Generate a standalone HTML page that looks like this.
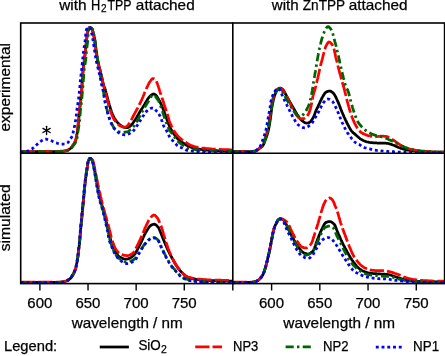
<!DOCTYPE html>
<html><head><meta charset="utf-8"><style>
html,body{margin:0;padding:0;background:#fff;width:445px;height:356px;overflow:hidden}
svg{display:block;will-change:transform}
text{font-family:"Liberation Sans", sans-serif}
</style></head><body>
<svg width="445" height="356" viewBox="0 0 445 356"><defs>
<clipPath id="cTL"><rect x="20.7" y="19.9" width="212.10000000000002" height="133.1"/></clipPath>
<clipPath id="cTR"><rect x="232.8" y="19.9" width="211.7" height="133.1"/></clipPath>
<clipPath id="cBL"><rect x="20.7" y="150.0" width="212.10000000000002" height="133.7"/></clipPath>
<clipPath id="cBR"><rect x="232.8" y="150.0" width="211.7" height="133.7"/></clipPath>
</defs>
<g clip-path="url(#cTL)" fill="none" stroke-width="2.75" stroke-linejoin="round">
<path d="M20.7,151.6 21.5,151.6 22.3,151.6 23.1,151.6 23.9,151.6 24.7,151.6 25.5,151.6 26.3,151.6 27.1,151.6 27.9,151.6 28.7,151.6 29.5,151.6 30.3,151.6 31.1,151.6 31.9,151.6 32.7,151.6 33.5,151.6 34.3,151.6 35.1,151.6 35.9,151.6 36.7,151.6 37.5,151.6 38.3,151.6 39.1,151.6 39.9,151.6 40.7,151.6 41.5,151.6 42.3,151.6 43.1,151.6 43.9,151.6 44.7,151.6 45.5,151.6 46.3,151.6 47.1,151.6 47.9,151.6 48.7,151.6 49.5,151.6 50.3,151.6 51.1,151.6 51.9,151.6 52.7,151.6 53.5,151.6 54.3,151.6 55.1,151.6 55.9,151.6 56.7,151.6 57.5,151.6 58.3,151.5 59.1,151.5 59.9,151.5 60.6,151.4 61.4,151.4 62.2,151.3 63.0,151.3 63.8,151.2 64.6,151.1 65.4,150.9 66.2,150.7 67.0,150.5 67.7,150.2 68.4,149.9 69.1,149.4 69.7,149.0 70.4,148.5 71.0,148.0 71.5,147.4 72.0,146.8 72.5,146.1 73.0,145.5 73.4,144.8 73.9,144.2 74.3,143.5 74.6,142.8 75.0,142.0 75.3,141.3 75.6,140.5 75.8,139.8 76.0,139.0 76.2,138.2 76.4,137.5 76.5,136.7 76.7,135.9 76.8,135.1 76.9,134.3 77.1,133.5 77.2,132.7 77.3,131.9 77.4,131.2 77.5,130.4 77.6,129.6 77.7,128.8 77.8,128.0 77.9,127.2 78.0,126.4 78.1,125.6 78.2,124.8 78.3,124.0 78.4,123.2 78.5,122.4 78.5,121.6 78.6,120.8 78.7,120.0 78.8,119.2 78.8,118.5 78.9,117.7 79.0,116.9 79.0,116.1 79.1,115.3 79.2,114.5 79.2,113.7 79.3,112.9 79.4,112.1 79.5,111.3 79.6,110.5 79.6,109.7 79.7,108.9 79.8,108.1 79.9,107.3 80.0,106.5 80.1,105.7 80.2,104.9 80.3,104.1 80.4,103.4 80.5,102.6 80.6,101.8 80.7,101.0 80.8,100.2 80.9,99.4 80.9,98.6 81.0,97.8 81.1,97.0 81.2,96.2 81.3,95.4 81.3,94.6 81.4,93.8 81.5,93.0 81.5,92.2 81.6,91.4 81.7,90.6 81.7,89.8 81.8,89.0 81.8,88.2 81.9,87.4 81.9,86.6 82.0,85.8 82.0,85.0 82.1,84.3 82.1,83.5 82.1,82.7 82.2,81.9 82.2,81.1 82.3,80.3 82.3,79.5 82.4,78.7 82.4,77.9 82.5,77.1 82.5,76.3 82.6,75.5 82.6,74.7 82.7,73.9 82.7,73.1 82.8,72.3 82.9,71.5 82.9,70.7 83.0,69.9 83.1,69.1 83.2,68.3 83.3,67.5 83.4,66.7 83.5,65.9 83.6,65.1 83.8,64.4 83.9,63.6 84.0,62.8 84.1,62.0 84.2,61.2 84.3,60.4 84.4,59.6 84.5,58.8 84.6,58.0 84.7,57.2 84.8,56.4 84.9,55.6 85.0,54.9 85.1,54.1 85.2,53.3 85.2,52.5 85.3,51.7 85.4,50.9 85.5,50.1 85.6,49.3 85.7,48.5 85.8,47.7 85.8,46.9 85.9,46.1 86.0,45.3 86.1,44.5 86.2,43.7 86.3,42.9 86.4,42.1 86.4,41.3 86.5,40.6 86.6,39.8 86.7,39.0 86.8,38.2 86.9,37.4 87.0,36.6 87.1,35.8 87.1,35.0 87.2,34.2 87.3,33.4 87.5,32.6 87.6,31.8 87.9,31.1 88.1,30.3 88.3,29.5 88.6,28.8 89.0,28.1 89.5,27.5 90.3,27.7 90.9,28.1 91.5,28.6 92.0,29.3 92.4,30.0 92.7,30.7 93.0,31.5 93.2,32.2 93.4,33.0 93.5,33.8 93.7,34.6 93.9,35.4 94.0,36.2 94.2,36.9 94.4,37.7 94.6,38.5 94.8,39.3 94.9,40.0 95.0,40.8 95.2,41.6 95.3,42.4 95.4,43.2 95.5,44.0 95.6,44.8 95.7,45.6 95.7,46.4 95.8,47.2 95.9,48.0 96.0,48.8 96.1,49.6 96.2,50.3 96.4,51.1 96.5,51.9 96.6,52.7 96.7,53.5 96.8,54.3 96.9,55.1 97.0,55.9 97.1,56.7 97.3,57.5 97.4,58.3 97.5,59.0 97.7,59.8 97.8,60.6 98.0,61.4 98.1,62.2 98.3,63.0 98.5,63.7 98.7,64.5 98.8,65.3 99.0,66.1 99.2,66.9 99.4,67.6 99.6,68.4 99.8,69.2 100.0,70.0 100.2,70.7 100.4,71.5 100.6,72.3 100.8,73.1 101.0,73.8 101.2,74.6 101.4,75.4 101.5,76.2 101.7,76.9 101.9,77.7 102.1,78.5 102.2,79.3 102.4,80.1 102.5,80.8 102.7,81.6 102.9,82.4 103.1,83.2 103.3,84.0 103.5,84.7 103.8,85.5 104.0,86.2 104.3,87.0 104.6,87.7 104.9,88.5 105.2,89.2 105.4,90.0 105.6,90.8 105.8,91.5 106.0,92.3 106.2,93.1 106.4,93.8 106.6,94.6 106.8,95.4 107.0,96.2 107.2,96.9 107.4,97.7 107.6,98.5 107.8,99.3 108.0,100.0 108.2,100.8 108.4,101.6 108.6,102.4 108.8,103.1 109.1,103.9 109.3,104.7 109.5,105.4 109.7,106.2 110.0,107.0 110.2,107.7 110.4,108.5 110.7,109.2 110.9,110.0 111.2,110.8 111.4,111.5 111.7,112.3 112.0,113.0 112.3,113.8 112.6,114.5 112.9,115.2 113.3,115.9 113.6,116.7 114.0,117.4 114.3,118.1 114.7,118.8 115.1,119.5 115.6,120.1 116.1,120.8 116.6,121.4 117.1,122.0 117.6,122.6 118.2,123.2 118.7,123.7 119.3,124.3 119.9,124.8 120.5,125.3 121.2,125.8 121.9,126.2 122.5,126.7 123.2,127.0 124.0,127.3 124.8,127.4 125.6,127.5 126.4,127.6 127.2,127.6 127.9,127.4 128.7,127.1 129.4,126.8 130.0,126.3 130.6,125.8 131.2,125.2 131.7,124.6 132.2,124.0 132.7,123.3 133.1,122.7 133.6,122.0 134.0,121.4 134.5,120.7 135.0,120.1 135.4,119.4 135.9,118.7 136.3,118.1 136.7,117.4 137.1,116.7 137.5,116.0 137.9,115.3 138.3,114.6 138.7,113.9 139.1,113.2 139.5,112.5 139.9,111.8 140.3,111.1 140.7,110.5 141.1,109.8 141.6,109.1 142.0,108.5 142.5,107.8 142.9,107.1 143.4,106.5 143.8,105.8 144.2,105.1 144.6,104.4 145.0,103.7 145.4,103.0 145.8,102.3 146.2,101.6 146.6,100.9 147.0,100.2 147.4,99.6 147.8,98.9 148.3,98.2 148.8,97.6 149.3,97.0 149.8,96.4 150.4,95.8 151.0,95.3 151.6,94.9 152.3,94.4 153.0,94.1 153.8,94.0 154.6,94.3 155.2,94.7 155.9,95.2 156.4,95.8 156.9,96.4 157.3,97.1 157.7,97.8 158.1,98.5 158.5,99.2 158.9,99.9 159.3,100.6 159.6,101.3 160.0,102.0 160.4,102.7 160.7,103.4 161.0,104.1 161.4,104.9 161.7,105.6 162.0,106.3 162.3,107.1 162.6,107.8 162.9,108.6 163.2,109.3 163.5,110.0 163.8,110.8 164.1,111.5 164.4,112.3 164.6,113.0 164.9,113.8 165.2,114.5 165.5,115.3 165.7,116.0 166.0,116.8 166.3,117.5 166.5,118.3 166.8,119.1 167.0,119.8 167.3,120.6 167.6,121.3 167.8,122.1 168.1,122.8 168.4,123.6 168.7,124.3 169.0,125.0 169.3,125.8 169.7,126.5 170.0,127.2 170.4,127.9 170.7,128.7 171.1,129.4 171.5,130.1 171.9,130.8 172.3,131.5 172.7,132.1 173.1,132.8 173.5,133.5 174.0,134.1 174.5,134.8 174.9,135.4 175.4,136.1 175.9,136.7 176.4,137.3 177.0,137.9 177.5,138.5 178.0,139.1 178.6,139.6 179.2,140.2 179.8,140.7 180.5,141.2 181.1,141.6 181.8,142.1 182.4,142.5 183.1,142.9 183.8,143.4 184.5,143.8 185.1,144.3 185.8,144.7 186.4,145.2 187.1,145.6 187.8,145.9 188.6,146.2 189.3,146.5 190.1,146.8 190.8,147.1 191.6,147.4 192.3,147.6 193.1,147.9 193.8,148.1 194.6,148.3 195.4,148.5 196.2,148.7 197.0,148.8 197.7,149.0 198.5,149.1 199.3,149.2 200.1,149.3 200.9,149.4 201.7,149.5 202.5,149.6 203.3,149.7 204.1,149.8 204.9,149.9 205.7,150.0 206.5,150.1 207.3,150.1 208.1,150.2 208.9,150.3 209.6,150.3 210.4,150.4 211.2,150.4 212.0,150.5 212.8,150.5 213.6,150.6 214.4,150.6 215.2,150.7 216.0,150.7 216.8,150.7 217.6,150.8 218.4,150.8 219.2,150.8 220.0,150.9 220.8,150.9 221.6,150.9 222.4,151.0 223.2,151.0 224.0,151.0 224.8,151.1 225.6,151.1 226.4,151.1 227.2,151.1 228.0,151.1 228.8,151.2 229.6,151.2 230.4,151.2 231.2,151.2 232.0,151.2 232.8,151.2" stroke="#000000" stroke-linecap="round"/>
<path d="M20.7,151.4 21.5,151.4 22.3,151.4 23.1,151.4 23.9,151.4 24.7,151.4 25.5,151.4 26.3,151.4 27.1,151.4 27.9,151.4 28.7,151.4 29.5,151.4 30.3,151.4 31.1,151.4 31.9,151.4 32.7,151.4 33.5,151.4 34.3,151.4 35.1,151.4 35.9,151.4 36.7,151.4 37.5,151.4 38.3,151.4 39.1,151.4 39.9,151.4 40.7,151.4 41.5,151.4 42.3,151.4 43.1,151.4 43.9,151.4 44.7,151.4 45.5,151.4 46.3,151.4 47.1,151.4 47.9,151.4 48.7,151.4 49.5,151.4 50.3,151.4 51.1,151.4 51.9,151.4 52.7,151.4 53.5,151.4 54.3,151.4 55.1,151.4 55.9,151.4 56.7,151.4 57.5,151.4 58.3,151.3 59.1,151.3 59.9,151.3 60.6,151.2 61.4,151.2 62.2,151.1 63.0,151.1 63.8,151.0 64.6,150.9 65.4,150.7 66.2,150.6 67.0,150.3 67.7,150.0 68.4,149.7 69.1,149.3 69.8,148.9 70.4,148.4 71.0,147.8 71.5,147.3 72.0,146.6 72.4,145.9 72.8,145.2 73.3,144.6 73.7,143.9 74.1,143.2 74.5,142.5 74.9,141.8 75.3,141.1 75.6,140.4 75.8,139.6 76.0,138.8 76.2,138.1 76.3,137.3 76.5,136.5 76.6,135.7 76.7,134.9 76.8,134.1 76.9,133.3 77.0,132.5 77.2,131.7 77.3,130.9 77.4,130.2 77.5,129.4 77.6,128.6 77.7,127.8 77.8,127.0 77.9,126.2 77.9,125.4 78.0,124.6 78.1,123.8 78.2,123.0 78.3,122.2 78.4,121.4 78.4,120.6 78.5,119.8 78.6,119.0 78.7,118.2 78.7,117.4 78.8,116.6 78.9,115.8 78.9,115.1 79.0,114.3 79.1,113.5 79.1,112.7 79.2,111.9 79.3,111.1 79.4,110.3 79.5,109.5 79.6,108.7 79.7,107.9 79.8,107.1 79.9,106.3 80.0,105.5 80.1,104.7 80.3,104.0 80.4,103.2 80.5,102.4 80.6,101.6 80.7,100.8 80.8,100.0 80.9,99.2 81.0,98.4 81.1,97.6 81.1,96.8 81.2,96.0 81.3,95.2 81.3,94.4 81.4,93.6 81.5,92.8 81.5,92.0 81.6,91.2 81.7,90.4 81.7,89.6 81.8,88.8 81.8,88.1 81.9,87.3 81.9,86.5 82.0,85.7 82.0,84.9 82.0,84.1 82.1,83.3 82.1,82.5 82.2,81.7 82.2,80.9 82.3,80.1 82.4,79.3 82.4,78.5 82.5,77.7 82.6,76.9 82.6,76.1 82.7,75.3 82.8,74.5 82.9,73.7 83.0,72.9 83.1,72.1 83.2,71.3 83.2,70.5 83.3,69.7 83.4,68.9 83.5,68.1 83.6,67.4 83.7,66.6 83.8,65.8 83.8,65.0 83.9,64.2 84.0,63.4 84.1,62.6 84.2,61.8 84.3,61.0 84.4,60.2 84.5,59.4 84.6,58.6 84.6,57.8 84.7,57.0 84.8,56.2 84.9,55.4 85.0,54.6 85.1,53.9 85.2,53.1 85.3,52.3 85.3,51.5 85.4,50.7 85.5,49.9 85.6,49.1 85.7,48.3 85.8,47.5 85.9,46.7 86.0,45.9 86.0,45.1 86.1,44.3 86.2,43.5 86.3,42.7 86.4,41.9 86.5,41.1 86.6,40.4 86.6,39.6 86.7,38.8 86.8,38.0 86.9,37.2 86.9,36.4 87.0,35.6 87.1,34.8 87.1,34.0 87.2,33.2 87.3,32.4 87.5,31.6 87.7,30.8 87.9,30.1 88.2,29.3 88.5,28.6 88.9,27.9 89.5,27.5 90.3,27.7 91.0,28.0 91.5,28.6 91.8,29.3 92.1,30.1 92.4,30.8 92.6,31.6 92.8,32.4 93.0,33.2 93.2,33.9 93.3,34.7 93.5,35.5 93.7,36.3 93.8,37.1 93.9,37.9 94.1,38.7 94.2,39.4 94.3,40.2 94.4,41.0 94.5,41.8 94.6,42.6 94.8,43.4 94.9,44.2 95.0,45.0 95.1,45.8 95.2,46.6 95.3,47.3 95.5,48.1 95.6,48.9 95.7,49.7 95.8,50.5 95.9,51.3 96.0,52.1 96.2,52.9 96.3,53.7 96.4,54.5 96.5,55.2 96.7,56.0 96.8,56.8 96.9,57.6 97.1,58.4 97.2,59.2 97.4,60.0 97.5,60.8 97.7,61.5 97.8,62.3 98.0,63.1 98.2,63.9 98.4,64.7 98.6,65.4 98.8,66.2 99.1,67.0 99.3,67.7 99.5,68.5 99.7,69.3 100.0,70.0 100.2,70.8 100.4,71.6 100.6,72.3 100.8,73.1 100.9,73.9 101.1,74.7 101.3,75.5 101.5,76.2 101.6,77.0 101.8,77.8 102.0,78.6 102.1,79.4 102.3,80.1 102.5,80.9 102.7,81.7 102.8,82.5 103.0,83.3 103.2,84.0 103.4,84.8 103.5,85.6 103.7,86.4 103.9,87.2 104.1,87.9 104.3,88.7 104.5,89.5 104.7,90.3 104.9,91.0 105.1,91.8 105.3,92.6 105.6,93.3 105.8,94.1 106.0,94.9 106.3,95.6 106.5,96.4 106.7,97.2 106.9,97.9 107.1,98.7 107.3,99.5 107.4,100.3 107.6,101.0 107.8,101.8 108.0,102.6 108.2,103.4 108.4,104.1 108.6,104.9 108.8,105.7 109.1,106.4 109.3,107.2 109.5,108.0 109.7,108.7 110.0,109.5 110.2,110.3 110.5,111.0 110.8,111.8 111.0,112.5 111.3,113.3 111.6,114.0 111.9,114.8 112.2,115.5 112.5,116.3 112.8,117.0 113.1,117.7 113.5,118.4 113.9,119.1 114.3,119.8 114.8,120.4 115.3,121.1 115.8,121.7 116.3,122.3 116.8,122.9 117.3,123.5 117.9,124.1 118.5,124.6 119.1,125.1 119.7,125.6 120.4,126.0 121.2,126.3 121.9,126.6 122.7,126.8 123.5,126.9 124.3,127.0 125.1,127.0 125.8,126.8 126.6,126.5 127.2,126.0 127.8,125.5 128.3,124.8 128.7,124.1 129.1,123.5 129.5,122.8 129.9,122.1 130.4,121.4 130.8,120.7 131.2,120.0 131.6,119.4 132.0,118.7 132.3,118.0 132.7,117.2 133.1,116.5 133.5,115.8 133.8,115.1 134.2,114.4 134.6,113.7 134.9,113.0 135.3,112.3 135.7,111.6 136.1,110.9 136.4,110.2 136.8,109.5 137.2,108.8 137.6,108.1 137.9,107.4 138.3,106.6 138.7,105.9 139.0,105.2 139.4,104.5 139.8,103.8 140.1,103.1 140.5,102.4 140.8,101.6 141.2,100.9 141.5,100.2 141.8,99.5 142.2,98.7 142.5,98.0 142.8,97.3 143.1,96.5 143.4,95.8 143.7,95.1 144.0,94.3 144.3,93.6 144.6,92.8 144.9,92.1 145.2,91.4 145.5,90.6 145.9,89.9 146.2,89.2 146.5,88.4 146.8,87.7 147.2,87.0 147.5,86.3 147.8,85.5 148.2,84.8 148.6,84.1 148.9,83.4 149.3,82.7 149.7,82.0 150.2,81.3 150.6,80.7 151.1,80.0 151.6,79.5 152.2,78.9 153.0,78.6 153.7,78.7 154.5,79.1 155.1,79.5 155.7,80.0 156.2,80.7 156.5,81.4 156.8,82.2 157.1,82.9 157.4,83.7 157.6,84.4 157.9,85.2 158.2,85.9 158.4,86.7 158.6,87.4 158.9,88.2 159.1,89.0 159.3,89.7 159.6,90.5 159.8,91.3 160.0,92.0 160.3,92.8 160.5,93.6 160.8,94.3 161.0,95.1 161.3,95.8 161.5,96.6 161.8,97.3 162.0,98.1 162.3,98.9 162.6,99.6 162.8,100.4 163.1,101.1 163.3,101.9 163.6,102.6 163.8,103.4 164.1,104.2 164.3,104.9 164.6,105.7 164.8,106.4 165.1,107.2 165.3,107.9 165.6,108.7 165.9,109.5 166.1,110.2 166.4,111.0 166.7,111.7 166.9,112.5 167.2,113.2 167.4,114.0 167.6,114.8 167.9,115.5 168.1,116.3 168.3,117.1 168.5,117.8 168.6,118.6 168.8,119.4 169.1,120.2 169.3,120.9 169.6,121.7 169.9,122.4 170.2,123.2 170.5,123.9 170.9,124.6 171.2,125.3 171.5,126.0 171.9,126.8 172.2,127.5 172.6,128.2 172.9,128.9 173.3,129.7 173.6,130.4 174.0,131.1 174.5,131.7 174.9,132.4 175.4,133.0 175.9,133.7 176.4,134.3 176.9,134.9 177.4,135.5 178.0,136.1 178.5,136.7 179.1,137.2 179.6,137.8 180.2,138.3 180.8,138.9 181.5,139.4 182.1,139.9 182.7,140.3 183.4,140.8 184.1,141.2 184.7,141.7 185.4,142.1 186.1,142.5 186.7,143.0 187.4,143.4 188.0,143.9 188.7,144.3 189.4,144.7 190.1,145.1 190.9,145.4 191.6,145.7 192.4,145.9 193.1,146.2 193.9,146.4 194.6,146.7 195.4,146.9 196.2,147.0 197.0,147.2 197.8,147.4 198.5,147.5 199.3,147.6 200.1,147.8 200.9,147.9 201.7,148.0 202.5,148.1 203.3,148.1 204.1,148.2 204.9,148.3 205.7,148.4 206.5,148.5 207.3,148.6 208.1,148.6 208.9,148.7 209.7,148.8 210.5,148.8 211.2,148.9 212.0,149.0 212.8,149.0 213.6,149.1 214.4,149.1 215.2,149.2 216.0,149.2 216.8,149.2 217.6,149.3 218.4,149.3 219.2,149.4 220.0,149.4 220.8,149.4 221.6,149.5 222.4,149.5 223.2,149.5 224.0,149.6 224.8,149.6 225.6,149.6 226.4,149.7 227.2,149.7 228.0,149.7 228.8,149.7 229.6,149.8 230.4,149.8 231.2,149.8 232.0,149.8 232.8,149.8" stroke="#ff0000" stroke-linecap="butt" stroke-dasharray="14.3 3"/>
<path d="M20.7,151.6 21.5,151.6 22.3,151.6 23.1,151.6 23.9,151.6 24.7,151.6 25.5,151.6 26.3,151.6 27.1,151.6 27.9,151.6 28.7,151.6 29.5,151.6 30.3,151.6 31.1,151.6 31.9,151.6 32.7,151.6 33.5,151.6 34.3,151.6 35.1,151.6 35.9,151.6 36.7,151.6 37.5,151.6 38.3,151.6 39.1,151.6 39.9,151.6 40.7,151.6 41.5,151.6 42.3,151.6 43.1,151.6 43.9,151.6 44.7,151.6 45.5,151.6 46.3,151.6 47.1,151.6 47.9,151.6 48.7,151.6 49.5,151.6 50.3,151.6 51.1,151.6 51.9,151.6 52.7,151.6 53.5,151.6 54.3,151.6 55.1,151.6 55.8,151.6 56.6,151.6 57.4,151.6 58.2,151.6 59.0,151.5 59.8,151.5 60.6,151.5 61.4,151.4 62.2,151.4 63.0,151.4 63.8,151.3 64.6,151.2 65.4,151.1 66.2,150.9 67.0,150.7 67.7,150.5 68.5,150.2 69.2,149.8 69.9,149.4 70.5,148.9 71.1,148.4 71.6,147.8 72.1,147.2 72.6,146.5 73.0,145.9 73.5,145.2 74.0,144.6 74.5,144.0 75.0,143.3 75.4,142.7 75.8,142.0 76.1,141.2 76.4,140.5 76.7,139.7 76.9,139.0 77.0,138.2 77.2,137.4 77.3,136.6 77.4,135.8 77.5,135.0 77.6,134.2 77.7,133.4 77.8,132.6 77.9,131.9 78.0,131.1 78.2,130.3 78.3,129.5 78.4,128.7 78.5,127.9 78.7,127.1 78.8,126.3 78.9,125.5 79.1,124.8 79.2,124.0 79.3,123.2 79.4,122.4 79.5,121.6 79.6,120.8 79.7,120.0 79.8,119.2 79.9,118.4 79.9,117.6 80.0,116.8 80.0,116.0 80.1,115.2 80.1,114.4 80.2,113.6 80.3,112.8 80.3,112.0 80.4,111.2 80.5,110.4 80.5,109.7 80.6,108.9 80.7,108.1 80.8,107.3 80.9,106.5 81.0,105.7 81.1,104.9 81.2,104.1 81.3,103.3 81.4,102.5 81.5,101.7 81.6,100.9 81.7,100.1 81.8,99.3 81.8,98.5 81.9,97.7 82.0,97.0 82.1,96.2 82.1,95.4 82.2,94.6 82.3,93.8 82.3,93.0 82.4,92.2 82.5,91.4 82.6,90.6 82.6,89.8 82.7,89.0 82.7,88.2 82.8,87.4 82.9,86.6 82.9,85.8 83.0,85.0 83.1,84.2 83.1,83.4 83.2,82.6 83.3,81.8 83.3,81.0 83.4,80.2 83.4,79.4 83.5,78.6 83.6,77.8 83.6,77.0 83.7,76.3 83.7,75.5 83.8,74.7 83.9,73.9 83.9,73.1 84.0,72.3 84.1,71.5 84.1,70.7 84.2,69.9 84.3,69.1 84.4,68.3 84.5,67.5 84.6,66.7 84.8,65.9 84.9,65.1 85.0,64.4 85.2,63.6 85.3,62.8 85.4,62.0 85.5,61.2 85.7,60.4 85.7,59.6 85.8,58.8 85.9,58.0 86.0,57.2 86.0,56.4 86.1,55.6 86.2,54.8 86.2,54.0 86.3,53.2 86.4,52.5 86.4,51.7 86.5,50.9 86.6,50.1 86.7,49.3 86.8,48.5 86.9,47.7 87.0,46.9 87.1,46.1 87.2,45.3 87.3,44.5 87.4,43.7 87.5,42.9 87.6,42.1 87.7,41.3 87.7,40.6 87.8,39.8 87.9,39.0 87.9,38.2 88.0,37.4 88.0,36.6 88.1,35.8 88.1,35.0 88.2,34.2 88.3,33.4 88.3,32.6 88.4,31.8 88.5,31.0 88.7,30.2 89.0,29.5 89.3,28.7 89.7,28.0 90.3,27.5 91.0,27.7 91.6,28.2 92.2,28.7 92.7,29.4 93.0,30.1 93.3,30.9 93.4,31.6 93.6,32.4 93.7,33.2 93.8,34.0 94.0,34.8 94.1,35.6 94.2,36.4 94.3,37.2 94.4,38.0 94.5,38.7 94.6,39.5 94.7,40.3 94.9,41.1 95.0,41.9 95.1,42.7 95.2,43.5 95.3,44.3 95.4,45.1 95.5,45.9 95.6,46.7 95.7,47.5 95.8,48.3 95.9,49.0 96.0,49.8 96.1,50.6 96.2,51.4 96.3,52.2 96.4,53.0 96.5,53.8 96.7,54.6 96.8,55.4 96.9,56.2 97.0,57.0 97.1,57.7 97.3,58.5 97.4,59.3 97.5,60.1 97.6,60.9 97.8,61.7 97.9,62.5 98.1,63.3 98.2,64.0 98.3,64.8 98.5,65.6 98.6,66.4 98.8,67.2 98.9,68.0 99.1,68.8 99.2,69.5 99.4,70.3 99.5,71.1 99.7,71.9 99.8,72.7 99.9,73.5 100.1,74.3 100.2,75.0 100.4,75.8 100.5,76.6 100.7,77.4 100.8,78.2 101.0,79.0 101.2,79.7 101.3,80.5 101.5,81.3 101.6,82.1 101.8,82.9 101.9,83.7 102.1,84.4 102.3,85.2 102.4,86.0 102.6,86.8 102.7,87.6 102.9,88.4 103.0,89.1 103.2,89.9 103.3,90.7 103.4,91.5 103.6,92.3 103.7,93.1 103.8,93.9 104.0,94.7 104.1,95.4 104.2,96.2 104.4,97.0 104.5,97.8 104.6,98.6 104.8,99.4 104.9,100.2 105.1,100.9 105.3,101.7 105.4,102.5 105.6,103.3 105.7,104.1 105.9,104.9 106.1,105.6 106.2,106.4 106.4,107.2 106.6,108.0 106.8,108.8 107.0,109.5 107.1,110.3 107.3,111.1 107.5,111.9 107.7,112.6 108.0,113.4 108.2,114.2 108.4,114.9 108.6,115.7 108.9,116.5 109.1,117.2 109.4,118.0 109.6,118.7 109.9,119.5 110.2,120.2 110.5,120.9 110.9,121.7 111.2,122.4 111.5,123.1 111.8,123.9 112.2,124.6 112.5,125.3 112.9,126.0 113.3,126.7 113.8,127.4 114.2,128.0 114.7,128.7 115.2,129.2 115.8,129.8 116.4,130.3 117.1,130.8 117.8,131.2 118.5,131.5 119.2,131.8 120.0,132.0 120.8,132.2 121.6,132.3 122.4,132.4 123.2,132.4 124.0,132.3 124.8,132.2 125.5,132.1 126.3,131.9 127.1,131.8 127.9,131.5 128.6,131.2 129.2,130.7 129.9,130.2 130.5,129.7 131.1,129.2 131.6,128.6 132.2,128.0 132.7,127.4 133.3,126.8 133.8,126.2 134.3,125.6 134.8,125.0 135.3,124.4 135.7,123.7 136.1,123.0 136.5,122.3 136.9,121.6 137.3,120.9 137.7,120.2 138.0,119.5 138.4,118.8 138.8,118.1 139.1,117.4 139.5,116.7 139.9,116.0 140.2,115.2 140.6,114.5 141.0,113.8 141.4,113.1 141.7,112.4 142.2,111.7 142.6,111.1 143.0,110.4 143.4,109.7 143.8,109.0 144.2,108.3 144.6,107.6 145.0,106.9 145.4,106.2 145.8,105.5 146.2,104.9 146.6,104.2 147.0,103.5 147.5,102.8 147.9,102.2 148.3,101.5 148.7,100.8 149.1,100.1 149.5,99.4 149.9,98.7 150.3,98.0 150.7,97.3 151.1,96.6 151.6,96.0 152.1,95.4 152.8,95.0 153.6,95.1 154.3,95.5 154.9,96.0 155.5,96.6 156.0,97.2 156.5,97.8 156.9,98.5 157.4,99.1 157.8,99.8 158.3,100.4 158.7,101.1 159.0,101.9 159.3,102.6 159.6,103.3 159.9,104.1 160.2,104.8 160.4,105.6 160.7,106.3 161.0,107.1 161.2,107.8 161.5,108.6 161.8,109.3 162.0,110.1 162.3,110.9 162.6,111.6 162.8,112.4 163.1,113.1 163.3,113.9 163.5,114.6 163.8,115.4 164.0,116.2 164.3,116.9 164.5,117.7 164.8,118.5 165.0,119.2 165.3,120.0 165.5,120.7 165.8,121.5 166.1,122.2 166.4,123.0 166.7,123.7 167.0,124.5 167.3,125.2 167.6,125.9 167.9,126.7 168.2,127.4 168.5,128.1 168.8,128.9 169.2,129.6 169.6,130.3 170.0,131.0 170.4,131.6 170.9,132.2 171.5,132.8 172.0,133.5 172.5,134.1 172.9,134.7 173.4,135.4 173.8,136.1 174.3,136.7 174.7,137.4 175.2,138.0 175.6,138.7 176.1,139.3 176.6,140.0 177.1,140.6 177.7,141.2 178.2,141.7 178.9,142.2 179.5,142.7 180.2,143.1 180.8,143.6 181.5,144.1 182.1,144.5 182.7,145.0 183.4,145.5 184.0,146.0 184.7,146.4 185.4,146.8 186.1,147.2 186.8,147.6 187.5,147.9 188.3,148.1 189.1,148.3 189.9,148.5 190.6,148.7 191.4,148.9 192.2,149.0 193.0,149.2 193.7,149.4 194.5,149.5 195.3,149.7 196.1,149.8 196.9,149.9 197.7,150.0 198.5,150.1 199.3,150.2 200.1,150.3 200.9,150.4 201.7,150.5 202.5,150.5 203.3,150.6 204.0,150.6 204.8,150.6 205.6,150.7 206.4,150.7 207.2,150.7 208.0,150.8 208.8,150.8 209.6,150.8 210.4,150.8 211.2,150.9 212.0,150.9 212.8,150.9 213.6,150.9 214.4,150.9 215.2,151.0 216.0,151.0 216.8,151.0 217.6,151.0 218.4,151.0 219.2,151.1 220.0,151.1 220.8,151.1 221.6,151.1 222.4,151.1 223.2,151.1 224.0,151.1 224.8,151.2 225.6,151.2 226.4,151.2 227.2,151.2 228.0,151.2 228.8,151.2 229.6,151.2 230.4,151.2 231.2,151.2 232.0,151.2 232.8,151.2" stroke="#006400" stroke-linecap="butt" stroke-dasharray="8.1 3.3 2.4 3.3"/>
<path d="M20.7,152.2 21.5,152.2 22.3,152.2 23.1,152.1 23.9,152.0 24.7,152.0 25.5,151.9 26.3,151.7 27.0,151.5 27.7,151.1 28.4,150.7 29.1,150.3 29.8,149.9 30.5,149.6 31.3,149.2 32.0,148.9 32.6,148.4 33.3,147.9 33.9,147.4 34.4,146.9 35.0,146.3 35.6,145.8 36.2,145.2 36.8,144.7 37.3,144.1 37.9,143.6 38.5,143.0 39.1,142.5 39.7,142.0 40.4,141.5 41.0,141.1 41.7,140.6 42.4,140.2 43.1,139.8 43.8,139.5 44.5,139.2 45.3,139.1 46.1,139.1 46.9,139.3 47.7,139.5 48.5,139.7 49.2,139.9 50.0,140.2 50.7,140.5 51.5,140.8 52.2,141.1 52.9,141.5 53.6,141.8 54.3,142.2 55.1,142.5 55.8,142.8 56.6,143.0 57.3,143.3 58.1,143.5 58.9,143.7 59.7,143.9 60.4,144.0 61.2,144.1 62.0,144.1 62.8,144.1 63.6,144.1 64.4,144.0 65.2,144.0 66.0,143.8 66.7,143.4 67.4,143.0 68.0,142.5 68.5,141.9 68.9,141.2 69.3,140.5 69.7,139.8 70.2,139.2 70.7,138.5 71.2,137.9 71.6,137.2 72.0,136.5 72.3,135.8 72.5,135.0 72.7,134.2 72.9,133.5 73.1,132.7 73.3,131.9 73.4,131.1 73.6,130.3 73.8,129.6 74.0,128.8 74.2,128.0 74.3,127.2 74.5,126.4 74.7,125.7 74.8,124.9 75.0,124.1 75.1,123.3 75.3,122.5 75.4,121.7 75.5,120.9 75.7,120.1 75.8,119.4 75.9,118.6 76.0,117.8 76.1,117.0 76.2,116.2 76.3,115.4 76.4,114.6 76.4,113.8 76.5,113.0 76.6,112.2 76.7,111.4 76.8,110.6 76.9,109.8 77.0,109.0 77.1,108.2 77.3,107.5 77.4,106.7 77.5,105.9 77.6,105.1 77.8,104.3 77.9,103.5 78.0,102.7 78.1,101.9 78.2,101.1 78.4,100.3 78.5,99.5 78.6,98.8 78.7,98.0 78.7,97.2 78.8,96.4 78.9,95.6 79.0,94.8 79.1,94.0 79.2,93.2 79.3,92.4 79.3,91.6 79.4,90.8 79.5,90.0 79.6,89.2 79.6,88.4 79.7,87.6 79.8,86.8 79.9,86.0 79.9,85.2 80.0,84.4 80.1,83.6 80.1,82.8 80.2,82.0 80.3,81.2 80.4,80.5 80.4,79.7 80.5,78.9 80.6,78.1 80.7,77.3 80.8,76.5 80.9,75.7 81.0,74.9 81.1,74.1 81.2,73.3 81.3,72.5 81.4,71.7 81.5,70.9 81.6,70.1 81.7,69.3 81.8,68.5 81.8,67.7 81.9,67.0 82.0,66.2 82.1,65.4 82.1,64.6 82.2,63.8 82.3,63.0 82.4,62.2 82.5,61.4 82.5,60.6 82.6,59.8 82.7,59.0 82.8,58.2 82.9,57.4 83.0,56.6 83.0,55.8 83.1,55.0 83.2,54.2 83.3,53.4 83.4,52.6 83.5,51.8 83.6,51.0 83.7,50.3 83.8,49.5 83.9,48.7 84.0,47.9 84.1,47.1 84.2,46.3 84.4,45.5 84.5,44.7 84.6,43.9 84.7,43.1 84.9,42.3 85.0,41.6 85.1,40.8 85.2,40.0 85.3,39.2 85.4,38.4 85.5,37.6 85.5,36.8 85.6,36.0 85.7,35.2 85.7,34.4 85.8,33.6 85.9,32.8 86.0,32.0 86.1,31.2 86.2,30.4 86.4,29.7 86.8,28.9 87.2,28.3 87.7,27.6 88.4,27.3 89.2,27.3 90.0,27.5 90.3,28.2 90.5,28.9 90.7,29.7 90.9,30.5 91.1,31.3 91.3,32.0 91.5,32.8 91.7,33.6 91.9,34.4 92.0,35.2 92.2,35.9 92.4,36.7 92.5,37.5 92.7,38.3 92.8,39.1 93.0,39.9 93.1,40.7 93.2,41.4 93.4,42.2 93.5,43.0 93.6,43.8 93.7,44.6 93.8,45.4 93.9,46.2 94.1,47.0 94.2,47.8 94.3,48.6 94.4,49.4 94.5,50.1 94.6,50.9 94.8,51.7 94.9,52.5 95.0,53.3 95.1,54.1 95.2,54.9 95.4,55.7 95.5,56.5 95.6,57.3 95.7,58.0 95.9,58.8 96.0,59.6 96.2,60.4 96.3,61.2 96.5,62.0 96.7,62.7 96.9,63.5 97.1,64.3 97.3,65.1 97.5,65.9 97.7,66.6 97.8,67.4 98.0,68.2 98.2,69.0 98.4,69.7 98.6,70.5 98.8,71.3 99.0,72.1 99.2,72.8 99.4,73.6 99.5,74.4 99.7,75.2 99.9,76.0 100.1,76.7 100.2,77.5 100.4,78.3 100.5,79.1 100.7,79.9 100.8,80.7 101.0,81.5 101.1,82.2 101.3,83.0 101.4,83.8 101.6,84.6 101.8,85.4 101.9,86.2 102.1,86.9 102.4,87.7 102.6,88.5 102.8,89.2 103.0,90.0 103.2,90.8 103.3,91.6 103.4,92.4 103.6,93.2 103.7,93.9 103.8,94.7 103.9,95.5 104.0,96.3 104.1,97.1 104.3,97.9 104.4,98.7 104.5,99.5 104.7,100.3 104.8,101.0 105.0,101.8 105.1,102.6 105.3,103.4 105.5,104.2 105.7,105.0 105.8,105.7 106.0,106.5 106.2,107.3 106.4,108.1 106.6,108.8 106.8,109.6 107.0,110.4 107.2,111.2 107.4,111.9 107.6,112.7 107.8,113.5 108.0,114.3 108.2,115.0 108.5,115.8 108.7,116.6 108.9,117.3 109.2,118.1 109.5,118.8 109.7,119.6 110.0,120.3 110.3,121.1 110.6,121.8 110.9,122.5 111.3,123.3 111.6,124.0 112.0,124.7 112.4,125.4 112.8,126.1 113.2,126.8 113.6,127.5 114.0,128.2 114.5,128.8 114.9,129.4 115.5,130.0 116.1,130.6 116.7,131.1 117.3,131.6 117.9,132.1 118.6,132.6 119.2,133.1 119.8,133.5 120.5,133.9 121.3,134.2 122.1,134.4 122.9,134.6 123.6,134.7 124.4,134.8 125.2,134.8 126.0,134.7 126.8,134.5 127.6,134.3 128.3,134.0 129.0,133.7 129.8,133.3 130.5,132.9 131.1,132.5 131.8,132.1 132.5,131.7 133.1,131.1 133.6,130.5 134.2,129.9 134.6,129.3 135.1,128.6 135.5,128.0 136.0,127.3 136.4,126.6 136.8,126.0 137.3,125.3 137.7,124.6 138.1,123.9 138.5,123.2 138.9,122.6 139.4,121.9 139.8,121.2 140.3,120.6 140.7,119.9 141.2,119.2 141.6,118.6 142.0,117.9 142.4,117.2 142.8,116.5 143.3,115.8 143.7,115.2 144.1,114.5 144.6,113.8 145.0,113.2 145.5,112.5 146.0,111.9 146.6,111.4 147.2,110.8 147.8,110.3 148.5,109.9 149.1,109.4 149.8,108.9 150.5,108.5 151.2,108.2 152.0,108.0 152.8,108.0 153.5,108.3 154.2,108.7 154.8,109.2 155.4,109.8 155.9,110.4 156.5,111.0 157.0,111.5 157.6,112.1 158.0,112.8 158.5,113.4 158.9,114.1 159.3,114.8 159.7,115.5 160.1,116.2 160.4,116.9 160.7,117.7 161.0,118.4 161.3,119.2 161.6,119.9 161.8,120.7 162.1,121.4 162.3,122.2 162.6,122.9 162.9,123.7 163.1,124.4 163.4,125.2 163.7,125.9 164.1,126.7 164.5,127.4 164.9,128.1 165.3,128.7 165.7,129.4 166.1,130.1 166.6,130.8 167.0,131.4 167.3,132.2 167.7,132.9 168.0,133.6 168.4,134.3 168.7,135.0 169.0,135.8 169.4,136.5 169.8,137.2 170.2,137.8 170.7,138.5 171.2,139.1 171.8,139.7 172.3,140.3 172.9,140.9 173.4,141.4 173.9,142.0 174.5,142.6 175.0,143.2 175.5,143.8 176.1,144.4 176.7,144.9 177.3,145.5 177.9,145.9 178.6,146.4 179.3,146.7 180.0,147.1 180.8,147.4 181.5,147.7 182.2,148.1 182.9,148.5 183.6,148.8 184.3,149.2 185.1,149.5 185.8,149.9 186.5,150.1 187.3,150.4 188.1,150.5 188.9,150.6 189.7,150.8 190.5,150.9 191.3,151.0 192.1,151.1 192.9,151.2 193.6,151.3 194.4,151.3 195.2,151.4 196.0,151.5 196.8,151.5 197.6,151.6 198.4,151.7 199.2,151.7 200.0,151.8 200.8,151.8 201.6,151.8 202.4,151.9 203.2,151.9 204.0,151.9 204.8,151.9 205.6,151.9 206.4,151.9 207.2,152.0 208.0,152.0 208.8,152.0 209.6,152.0 210.4,152.0 211.2,152.0 212.0,152.0 212.8,152.1 213.6,152.1 214.4,152.1 215.2,152.1 216.0,152.1 216.8,152.1 217.6,152.1 218.4,152.1 219.2,152.1 220.0,152.1 220.8,152.1 221.6,152.2 222.4,152.2 223.2,152.2 224.0,152.2 224.8,152.2 225.6,152.2 226.4,152.2 227.2,152.2 228.0,152.2 228.8,152.2 229.6,152.2 230.4,152.2 231.2,152.2 232.0,152.2 232.8,152.2" stroke="#0000ff" stroke-linecap="butt" stroke-dasharray="2.9 2.85"/>
</g>
<g clip-path="url(#cTR)" fill="none" stroke-width="2.75" stroke-linejoin="round">
<path d="M232.8,151.6 233.6,151.6 234.4,151.6 235.2,151.6 236.0,151.6 236.8,151.6 237.6,151.6 238.4,151.6 239.2,151.6 240.0,151.6 240.8,151.6 241.6,151.6 242.4,151.6 243.2,151.6 244.0,151.6 244.8,151.6 245.6,151.6 246.4,151.6 247.2,151.6 248.0,151.6 248.8,151.6 249.6,151.6 250.4,151.6 251.2,151.6 252.0,151.5 252.8,151.5 253.6,151.4 254.4,151.3 255.1,151.2 255.9,150.9 256.6,150.5 257.3,150.1 257.9,149.6 258.6,149.2 259.2,148.7 259.8,148.2 260.4,147.7 261.1,147.2 261.8,146.8 262.4,146.2 262.9,145.6 263.3,144.9 263.6,144.2 264.0,143.5 264.3,142.8 264.5,142.0 264.8,141.3 265.1,140.5 265.4,139.8 265.7,139.0 265.9,138.3 266.2,137.5 266.5,136.8 266.7,136.0 267.0,135.2 267.2,134.5 267.4,133.7 267.6,132.9 267.9,132.2 268.1,131.4 268.2,130.6 268.4,129.8 268.6,129.1 268.8,128.3 268.9,127.5 269.1,126.7 269.2,125.9 269.4,125.1 269.5,124.4 269.6,123.6 269.8,122.8 269.9,122.0 270.0,121.2 270.1,120.4 270.3,119.6 270.4,118.8 270.5,118.0 270.6,117.2 270.7,116.5 270.8,115.7 270.9,114.9 271.0,114.1 271.1,113.3 271.2,112.5 271.3,111.7 271.4,110.9 271.5,110.1 271.6,109.3 271.7,108.5 271.9,107.7 272.0,107.0 272.1,106.2 272.3,105.4 272.4,104.6 272.6,103.8 272.7,103.0 272.9,102.3 273.1,101.5 273.2,100.7 273.4,99.9 273.6,99.1 273.8,98.4 274.0,97.6 274.2,96.8 274.4,96.1 274.7,95.3 275.0,94.5 275.3,93.8 275.6,93.1 275.9,92.3 276.3,91.6 276.7,90.9 277.2,90.3 277.7,89.7 278.3,89.2 278.9,88.7 279.6,88.3 280.4,88.2 281.2,88.4 281.9,88.8 282.5,89.3 283.1,89.8 283.6,90.4 284.0,91.1 284.4,91.8 284.7,92.5 285.1,93.3 285.5,94.0 285.9,94.7 286.3,95.4 286.6,96.1 287.0,96.8 287.4,97.5 287.8,98.2 288.2,98.9 288.5,99.6 288.9,100.3 289.3,101.0 289.7,101.7 290.1,102.4 290.5,103.1 290.9,103.7 291.3,104.4 291.7,105.1 292.1,105.8 292.5,106.5 292.9,107.2 293.3,107.9 293.7,108.6 294.1,109.3 294.5,110.0 294.9,110.7 295.3,111.4 295.7,112.1 296.1,112.8 296.5,113.5 296.9,114.2 297.3,114.8 297.7,115.5 298.1,116.2 298.6,116.8 299.1,117.5 299.5,118.1 300.1,118.7 300.6,119.3 301.2,119.9 301.7,120.4 302.3,120.9 303.0,121.4 303.7,121.9 304.3,122.3 305.0,122.7 305.7,123.0 306.5,123.1 307.3,123.0 308.1,122.9 308.9,122.7 309.6,122.3 310.2,121.8 310.8,121.2 311.3,120.6 311.8,120.0 312.2,119.3 312.6,118.6 313.0,117.9 313.4,117.2 313.8,116.5 314.1,115.8 314.4,115.0 314.7,114.3 314.9,113.5 315.2,112.8 315.4,112.0 315.7,111.3 316.0,110.5 316.3,109.8 316.7,109.1 317.0,108.4 317.4,107.7 317.8,107.0 318.1,106.2 318.5,105.5 318.8,104.8 319.1,104.1 319.5,103.3 319.8,102.6 320.1,101.9 320.4,101.1 320.8,100.4 321.1,99.7 321.5,99.0 321.9,98.3 322.2,97.6 322.6,96.9 323.0,96.2 323.4,95.5 323.8,94.8 324.3,94.1 324.7,93.5 325.2,92.9 325.8,92.3 326.5,91.9 327.2,91.6 328.0,91.3 328.7,91.1 329.5,91.0 330.3,91.1 331.1,91.4 331.7,91.8 332.4,92.3 333.0,92.8 333.5,93.4 334.0,94.0 334.5,94.7 334.9,95.4 335.3,96.1 335.6,96.8 336.0,97.5 336.3,98.2 336.7,99.0 337.0,99.7 337.3,100.4 337.6,101.2 338.0,101.9 338.3,102.6 338.6,103.4 338.9,104.1 339.2,104.8 339.5,105.6 339.8,106.3 340.1,107.1 340.3,107.8 340.6,108.6 340.9,109.3 341.2,110.1 341.5,110.8 341.8,111.5 342.1,112.3 342.4,113.0 342.7,113.7 343.1,114.5 343.4,115.2 343.7,115.9 344.0,116.7 344.3,117.4 344.7,118.1 345.0,118.9 345.3,119.6 345.7,120.3 346.0,121.0 346.4,121.7 346.7,122.5 347.1,123.2 347.5,123.9 347.8,124.6 348.2,125.3 348.6,126.0 348.9,126.7 349.3,127.4 349.7,128.1 350.1,128.8 350.5,129.5 351.0,130.2 351.4,130.8 351.9,131.4 352.5,132.0 353.0,132.6 353.7,133.1 354.3,133.6 354.9,134.1 355.5,134.6 356.1,135.1 356.7,135.7 357.3,136.2 357.9,136.7 358.5,137.3 359.1,137.8 359.7,138.3 360.4,138.8 361.0,139.2 361.7,139.6 362.4,140.0 363.1,140.4 363.8,140.7 364.6,141.0 365.3,141.3 366.1,141.6 366.8,141.8 367.6,142.0 368.4,142.2 369.2,142.4 370.0,142.5 370.7,142.6 371.5,142.6 372.3,142.7 373.1,142.8 373.9,142.8 374.7,142.9 375.5,142.9 376.3,142.9 377.1,143.0 377.9,143.0 378.7,143.0 379.5,143.0 380.3,143.1 381.1,143.1 381.9,143.1 382.7,143.1 383.5,143.1 384.3,143.1 385.1,143.2 385.9,143.2 386.7,143.3 387.5,143.4 388.3,143.5 389.1,143.7 389.8,144.0 390.6,144.2 391.3,144.4 392.1,144.7 392.9,145.0 393.6,145.2 394.4,145.5 395.1,145.8 395.8,146.2 396.5,146.5 397.2,146.9 398.0,147.2 398.7,147.5 399.5,147.8 400.2,148.1 401.0,148.3 401.7,148.5 402.5,148.8 403.3,149.0 404.0,149.2 404.8,149.4 405.6,149.6 406.4,149.8 407.2,149.9 407.9,150.1 408.7,150.2 409.5,150.3 410.3,150.4 411.1,150.5 411.9,150.6 412.7,150.7 413.5,150.8 414.3,150.9 415.1,151.0 415.9,151.0 416.7,151.1 417.5,151.2 418.3,151.3 419.1,151.3 419.8,151.4 420.6,151.4 421.4,151.5 422.2,151.5 423.0,151.6 423.8,151.6 424.6,151.6 425.4,151.7 426.2,151.7 427.0,151.7 427.8,151.8 428.6,151.8 429.4,151.8 430.2,151.9 431.0,151.9 431.8,151.9 432.6,152.0 433.4,152.0 434.2,152.0 435.0,152.0 435.8,152.1 436.6,152.1 437.4,152.1 438.2,152.1 439.0,152.1 439.8,152.2 440.6,152.2 441.4,152.2 442.2,152.2 443.0,152.2 443.8,152.2 444.6,152.2" stroke="#000000" stroke-linecap="round"/>
<path d="M232.8,151.4 233.6,151.4 234.4,151.4 235.2,151.4 236.0,151.4 236.8,151.4 237.6,151.4 238.4,151.4 239.2,151.4 240.0,151.4 240.8,151.4 241.6,151.4 242.4,151.4 243.2,151.4 244.0,151.4 244.8,151.4 245.6,151.4 246.4,151.4 247.2,151.4 248.0,151.4 248.8,151.4 249.6,151.4 250.4,151.4 251.2,151.4 252.0,151.3 252.8,151.3 253.6,151.2 254.4,151.1 255.2,151.0 255.9,150.7 256.6,150.3 257.3,149.9 257.9,149.4 258.6,148.9 259.2,148.4 259.7,147.8 260.3,147.3 261.0,146.9 261.6,146.4 262.2,145.8 262.6,145.1 262.9,144.4 263.2,143.6 263.5,142.9 263.8,142.1 264.0,141.4 264.3,140.6 264.5,139.9 264.8,139.1 265.1,138.4 265.3,137.6 265.6,136.8 265.8,136.1 266.1,135.3 266.3,134.5 266.5,133.8 266.7,133.0 266.9,132.2 267.1,131.5 267.3,130.7 267.5,129.9 267.7,129.1 267.9,128.3 268.0,127.6 268.2,126.8 268.3,126.0 268.5,125.2 268.6,124.4 268.8,123.6 268.9,122.9 269.1,122.1 269.2,121.3 269.3,120.5 269.4,119.7 269.6,118.9 269.7,118.1 269.8,117.3 269.9,116.5 270.0,115.7 270.1,114.9 270.2,114.2 270.3,113.4 270.4,112.6 270.5,111.8 270.6,111.0 270.8,110.2 270.9,109.4 271.0,108.6 271.1,107.8 271.3,107.0 271.4,106.2 271.5,105.5 271.7,104.7 271.8,103.9 272.0,103.1 272.1,102.3 272.3,101.5 272.4,100.7 272.6,100.0 272.8,99.2 273.0,98.4 273.2,97.6 273.4,96.9 273.6,96.1 273.9,95.3 274.2,94.6 274.4,93.8 274.7,93.1 275.1,92.4 275.4,91.6 275.8,90.9 276.2,90.3 276.8,89.7 277.4,89.2 278.1,88.8 278.8,88.4 279.6,88.2 280.4,88.3 281.0,88.7 281.7,89.2 282.2,89.8 282.8,90.3 283.3,90.9 283.8,91.6 284.2,92.3 284.6,93.0 285.0,93.7 285.4,94.4 285.8,95.0 286.2,95.7 286.6,96.4 287.0,97.1 287.4,97.8 287.7,98.5 288.1,99.2 288.5,100.0 288.8,100.7 289.2,101.4 289.5,102.1 289.9,102.8 290.2,103.6 290.6,104.3 290.9,105.0 291.3,105.7 291.6,106.4 292.0,107.1 292.4,107.8 292.7,108.6 293.1,109.3 293.5,110.0 293.9,110.7 294.3,111.3 294.7,112.0 295.1,112.7 295.5,113.4 295.9,114.1 296.3,114.8 296.8,115.4 297.3,116.1 297.8,116.7 298.3,117.3 299.0,117.8 299.7,118.2 300.4,118.5 301.1,118.8 301.9,118.8 302.7,118.7 303.5,118.7 304.3,118.5 304.9,118.0 305.5,117.5 306.1,116.9 306.7,116.4 307.2,115.8 307.7,115.2 308.2,114.5 308.6,113.8 308.9,113.1 309.2,112.4 309.5,111.6 309.7,110.9 310.0,110.1 310.2,109.3 310.4,108.6 310.6,107.8 310.8,107.0 311.0,106.2 311.2,105.5 311.4,104.7 311.5,103.9 311.7,103.1 311.8,102.3 312.0,101.5 312.1,100.7 312.2,100.0 312.4,99.2 312.5,98.4 312.7,97.6 312.8,96.8 313.0,96.0 313.2,95.3 313.4,94.5 313.6,93.7 313.8,92.9 314.1,92.2 314.3,91.4 314.5,90.7 314.8,89.9 315.0,89.1 315.2,88.3 315.4,87.6 315.6,86.8 315.8,86.0 315.9,85.2 316.1,84.5 316.3,83.7 316.5,82.9 316.7,82.1 316.9,81.4 317.1,80.6 317.3,79.8 317.5,79.0 317.7,78.3 317.9,77.5 318.1,76.7 318.2,75.9 318.4,75.1 318.6,74.4 318.8,73.6 318.9,72.8 319.1,72.0 319.3,71.2 319.4,70.5 319.6,69.7 319.8,68.9 320.0,68.1 320.2,67.3 320.3,66.6 320.5,65.8 320.7,65.0 320.9,64.2 321.1,63.4 321.3,62.7 321.5,61.9 321.7,61.1 321.9,60.3 322.1,59.6 322.3,58.8 322.5,58.0 322.7,57.3 322.9,56.5 323.1,55.7 323.3,54.9 323.5,54.2 323.7,53.4 323.9,52.6 324.1,51.8 324.3,51.1 324.5,50.3 324.7,49.5 325.0,48.8 325.2,48.0 325.5,47.2 325.8,46.5 326.1,45.8 326.5,45.1 326.9,44.4 327.3,43.7 327.7,43.0 328.2,42.4 328.9,42.0 329.7,42.1 330.4,42.6 330.9,43.1 331.5,43.7 331.9,44.4 332.4,45.0 332.8,45.7 333.2,46.4 333.5,47.1 333.7,47.9 333.9,48.7 334.1,49.4 334.3,50.2 334.5,51.0 334.6,51.8 334.8,52.6 335.0,53.4 335.1,54.1 335.3,54.9 335.5,55.7 335.6,56.5 335.8,57.3 336.0,58.0 336.2,58.8 336.4,59.6 336.6,60.4 336.8,61.1 337.0,61.9 337.2,62.7 337.4,63.5 337.5,64.2 337.7,65.0 337.9,65.8 338.1,66.6 338.3,67.4 338.5,68.1 338.7,68.9 338.9,69.7 339.1,70.4 339.3,71.2 339.5,72.0 339.7,72.8 339.9,73.5 340.2,74.3 340.4,75.1 340.6,75.8 340.8,76.6 341.0,77.4 341.2,78.2 341.4,78.9 341.6,79.7 341.9,80.5 342.1,81.2 342.3,82.0 342.5,82.8 342.7,83.6 342.9,84.3 343.1,85.1 343.3,85.9 343.6,86.6 343.8,87.4 344.0,88.2 344.2,89.0 344.4,89.7 344.6,90.5 344.8,91.3 345.0,92.0 345.2,92.8 345.4,93.6 345.6,94.4 345.8,95.1 346.0,95.9 346.2,96.7 346.4,97.5 346.5,98.3 346.7,99.0 346.9,99.8 347.1,100.6 347.3,101.4 347.5,102.1 347.7,102.9 347.9,103.7 348.1,104.5 348.3,105.2 348.6,106.0 348.8,106.8 349.0,107.5 349.2,108.3 349.4,109.1 349.7,109.8 349.9,110.6 350.1,111.4 350.4,112.1 350.6,112.9 350.9,113.6 351.1,114.4 351.4,115.2 351.7,115.9 351.9,116.7 352.2,117.4 352.5,118.2 352.8,118.9 353.1,119.7 353.4,120.4 353.7,121.1 354.0,121.9 354.3,122.6 354.7,123.3 355.0,124.0 355.4,124.7 355.8,125.4 356.2,126.1 356.6,126.8 357.0,127.5 357.4,128.2 357.8,128.9 358.3,129.5 358.8,130.2 359.3,130.8 359.8,131.3 360.4,131.9 361.1,132.4 361.7,132.8 362.4,133.2 363.1,133.6 363.9,133.9 364.6,134.3 365.3,134.6 366.1,134.9 366.8,135.1 367.6,135.4 368.3,135.6 369.1,135.8 369.9,136.0 370.7,136.1 371.5,136.2 372.3,136.3 373.1,136.4 373.9,136.5 374.7,136.6 375.5,136.6 376.3,136.6 377.0,136.6 377.8,136.5 378.6,136.4 379.4,136.4 380.2,136.3 381.0,136.2 381.8,136.2 382.6,136.2 383.4,136.2 384.2,136.3 385.0,136.3 385.8,136.4 386.6,136.5 387.4,136.7 388.1,137.1 388.8,137.4 389.5,137.8 390.3,138.1 391.0,138.5 391.6,138.9 392.3,139.4 392.9,139.8 393.6,140.3 394.2,140.8 394.9,141.2 395.6,141.7 396.2,142.1 396.9,142.6 397.5,143.0 398.2,143.5 398.9,144.0 399.5,144.4 400.2,144.9 400.8,145.3 401.5,145.7 402.2,146.1 402.9,146.5 403.6,146.8 404.4,147.2 405.1,147.4 405.9,147.7 406.6,148.0 407.4,148.3 408.1,148.5 408.9,148.7 409.7,149.0 410.4,149.2 411.2,149.4 412.0,149.6 412.8,149.8 413.6,149.9 414.3,150.1 415.1,150.2 415.9,150.3 416.7,150.5 417.5,150.6 418.3,150.7 419.1,150.9 419.9,151.0 420.7,151.1 421.4,151.2 422.2,151.3 423.0,151.4 423.8,151.4 424.6,151.5 425.4,151.6 426.2,151.6 427.0,151.7 427.8,151.7 428.6,151.7 429.4,151.8 430.2,151.8 431.0,151.9 431.8,151.9 432.6,151.9 433.4,152.0 434.2,152.0 435.0,152.0 435.8,152.0 436.6,152.1 437.4,152.1 438.2,152.1 439.0,152.1 439.8,152.2 440.6,152.2 441.4,152.2 442.2,152.2 443.0,152.2 443.8,152.2 444.6,152.2" stroke="#ff0000" stroke-linecap="butt" stroke-dasharray="14.3 3"/>
<path d="M232.8,151.6 233.6,151.6 234.4,151.6 235.2,151.6 236.0,151.6 236.8,151.6 237.6,151.6 238.4,151.6 239.2,151.6 240.0,151.6 240.8,151.6 241.6,151.6 242.4,151.6 243.2,151.6 244.0,151.6 244.8,151.6 245.6,151.6 246.4,151.6 247.2,151.6 248.0,151.6 248.8,151.6 249.6,151.6 250.4,151.6 251.2,151.6 252.0,151.5 252.8,151.5 253.6,151.4 254.4,151.3 255.2,151.2 255.9,150.9 256.6,150.5 257.3,150.1 257.9,149.6 258.6,149.2 259.2,148.7 259.8,148.2 260.4,147.7 261.1,147.2 261.7,146.7 262.2,146.1 262.7,145.4 263.1,144.7 263.4,144.0 263.7,143.3 264.0,142.5 264.3,141.8 264.6,141.0 264.9,140.3 265.2,139.5 265.4,138.8 265.7,138.0 266.0,137.3 266.2,136.5 266.5,135.7 266.7,135.0 266.9,134.2 267.1,133.4 267.3,132.7 267.5,131.9 267.7,131.1 267.9,130.4 268.1,129.6 268.3,128.8 268.4,128.0 268.6,127.2 268.7,126.4 268.9,125.7 269.0,124.9 269.1,124.1 269.3,123.3 269.4,122.5 269.5,121.7 269.7,120.9 269.8,120.1 269.9,119.3 270.0,118.6 270.1,117.8 270.2,117.0 270.3,116.2 270.4,115.4 270.6,114.6 270.7,113.8 270.8,113.0 270.9,112.2 271.0,111.4 271.1,110.6 271.2,109.8 271.4,109.1 271.5,108.3 271.6,107.5 271.7,106.7 271.9,105.9 272.0,105.1 272.1,104.3 272.3,103.5 272.4,102.7 272.6,102.0 272.7,101.2 272.9,100.4 273.1,99.6 273.3,98.8 273.5,98.1 273.7,97.3 274.0,96.5 274.2,95.8 274.5,95.0 274.8,94.3 275.1,93.6 275.4,92.8 275.7,92.1 276.0,91.4 276.4,90.7 276.9,90.0 277.6,89.6 278.2,89.1 278.9,88.7 279.7,88.4 280.5,88.3 281.1,88.7 281.5,89.4 281.9,90.1 282.2,90.8 282.5,91.6 282.9,92.3 283.3,93.0 283.6,93.7 284.0,94.4 284.4,95.1 284.7,95.8 285.1,96.5 285.5,97.2 285.9,97.9 286.3,98.6 286.7,99.3 287.0,100.0 287.4,100.7 287.8,101.4 288.2,102.1 288.6,102.8 289.0,103.5 289.4,104.2 289.8,104.9 290.3,105.6 290.7,106.2 291.1,106.9 291.5,107.6 292.0,108.2 292.4,108.9 292.9,109.6 293.3,110.2 293.7,110.9 294.2,111.6 294.6,112.3 295.1,112.9 295.6,113.5 296.1,114.1 296.7,114.7 297.3,115.2 298.0,115.6 298.7,116.0 299.4,116.3 300.2,116.2 301.0,116.0 301.7,115.7 302.4,115.3 303.0,114.7 303.5,114.2 304.1,113.5 304.5,112.9 305.0,112.3 305.4,111.6 305.9,110.9 306.3,110.2 306.7,109.5 307.1,108.8 307.4,108.1 307.8,107.4 308.1,106.7 308.4,105.9 308.7,105.2 309.0,104.5 309.3,103.7 309.5,102.9 309.8,102.2 310.0,101.4 310.2,100.7 310.4,99.9 310.6,99.1 310.8,98.3 311.0,97.6 311.2,96.8 311.3,96.0 311.5,95.2 311.6,94.4 311.7,93.6 311.9,92.8 312.0,92.0 312.1,91.3 312.3,90.5 312.4,89.7 312.5,88.9 312.7,88.1 312.8,87.3 312.9,86.5 313.0,85.7 313.2,84.9 313.3,84.2 313.4,83.4 313.5,82.6 313.6,81.8 313.8,81.0 313.9,80.2 314.0,79.4 314.1,78.6 314.3,77.8 314.4,77.1 314.5,76.3 314.7,75.5 314.8,74.7 315.0,73.9 315.1,73.1 315.2,72.3 315.4,71.5 315.5,70.8 315.7,70.0 315.8,69.2 315.9,68.4 316.1,67.6 316.2,66.8 316.3,66.0 316.5,65.2 316.6,64.5 316.7,63.7 316.8,62.9 317.0,62.1 317.1,61.3 317.2,60.5 317.3,59.7 317.5,58.9 317.6,58.1 317.8,57.4 317.9,56.6 318.0,55.8 318.2,55.0 318.3,54.2 318.5,53.4 318.6,52.6 318.8,51.9 319.0,51.1 319.1,50.3 319.3,49.5 319.4,48.7 319.6,47.9 319.8,47.2 319.9,46.4 320.1,45.6 320.3,44.8 320.5,44.0 320.7,43.3 320.9,42.5 321.1,41.7 321.3,41.0 321.5,40.2 321.7,39.4 321.9,38.6 322.2,37.9 322.4,37.1 322.6,36.3 322.9,35.6 323.1,34.8 323.4,34.1 323.7,33.3 324.0,32.6 324.3,31.8 324.6,31.1 324.9,30.4 325.3,29.7 325.7,29.0 326.1,28.3 326.6,27.7 327.1,27.1 327.7,26.6 328.5,26.6 329.1,27.1 329.7,27.7 330.2,28.3 330.7,28.9 331.1,29.6 331.5,30.3 331.8,31.0 332.1,31.8 332.4,32.5 332.7,33.3 332.9,34.0 333.1,34.8 333.3,35.6 333.5,36.4 333.7,37.1 333.9,37.9 334.1,38.7 334.3,39.4 334.5,40.2 334.7,41.0 334.9,41.8 335.1,42.5 335.3,43.3 335.6,44.1 335.8,44.9 336.0,45.6 336.2,46.4 336.3,47.2 336.5,48.0 336.7,48.7 336.9,49.5 337.1,50.3 337.3,51.1 337.5,51.8 337.7,52.6 337.9,53.4 338.0,54.2 338.2,55.0 338.4,55.7 338.6,56.5 338.7,57.3 338.9,58.1 339.1,58.9 339.2,59.6 339.4,60.4 339.5,61.2 339.7,62.0 339.9,62.8 340.0,63.6 340.2,64.3 340.4,65.1 340.5,65.9 340.7,66.7 340.9,67.5 341.1,68.2 341.2,69.0 341.4,69.8 341.6,70.6 341.8,71.4 342.0,72.1 342.2,72.9 342.4,73.7 342.6,74.5 342.8,75.2 343.0,76.0 343.2,76.8 343.4,77.6 343.6,78.3 343.8,79.1 344.0,79.9 344.2,80.6 344.4,81.4 344.6,82.2 344.8,83.0 345.0,83.7 345.2,84.5 345.4,85.3 345.7,86.0 345.9,86.8 346.2,87.5 346.6,88.2 347.0,88.9 347.4,89.6 347.7,90.4 348.0,91.1 348.3,91.8 348.5,92.6 348.8,93.4 349.0,94.1 349.2,94.9 349.4,95.7 349.6,96.5 349.8,97.2 350.0,98.0 350.2,98.8 350.4,99.6 350.5,100.3 350.8,101.1 351.0,101.9 351.2,102.7 351.4,103.4 351.6,104.2 351.8,105.0 352.1,105.7 352.3,106.5 352.5,107.3 352.7,108.0 353.0,108.8 353.2,109.6 353.4,110.3 353.7,111.1 353.9,111.8 354.2,112.6 354.5,113.3 354.7,114.1 355.0,114.9 355.3,115.6 355.5,116.4 355.8,117.1 356.1,117.9 356.4,118.6 356.7,119.3 357.0,120.1 357.4,120.8 357.7,121.5 358.1,122.2 358.5,122.9 359.0,123.5 359.5,124.2 360.0,124.8 360.5,125.4 361.0,126.0 361.6,126.6 362.1,127.1 362.7,127.7 363.3,128.3 363.9,128.8 364.5,129.4 365.1,129.9 365.7,130.4 366.3,130.9 367.0,131.3 367.6,131.8 368.3,132.2 369.0,132.6 369.7,132.9 370.4,133.3 371.2,133.6 371.9,134.0 372.6,134.3 373.4,134.6 374.1,134.9 374.9,135.1 375.6,135.4 376.4,135.6 377.2,135.8 377.9,136.0 378.7,136.2 379.5,136.4 380.3,136.6 381.1,136.7 381.8,136.9 382.6,137.1 383.4,137.3 384.1,137.5 384.9,137.8 385.6,138.1 386.4,138.4 387.1,138.7 387.8,139.0 388.6,139.4 389.3,139.7 390.0,140.1 390.7,140.4 391.5,140.7 392.2,141.1 392.9,141.4 393.6,141.8 394.3,142.2 395.0,142.5 395.7,142.9 396.5,143.3 397.2,143.6 397.9,144.0 398.6,144.3 399.3,144.7 400.0,145.0 400.8,145.3 401.5,145.7 402.2,146.0 403.0,146.3 403.7,146.7 404.4,147.0 405.1,147.3 405.9,147.6 406.6,147.9 407.4,148.2 408.1,148.5 408.9,148.7 409.7,148.9 410.4,149.1 411.2,149.3 412.0,149.5 412.8,149.6 413.6,149.8 414.3,149.9 415.1,150.1 415.9,150.2 416.7,150.3 417.5,150.5 418.3,150.6 419.1,150.7 419.9,150.8 420.7,150.9 421.5,151.0 422.3,151.0 423.1,151.1 423.9,151.2 424.6,151.2 425.4,151.3 426.2,151.3 427.0,151.4 427.8,151.5 428.6,151.5 429.4,151.6 430.2,151.6 431.0,151.7 431.8,151.7 432.6,151.8 433.4,151.8 434.2,151.9 435.0,151.9 435.8,152.0 436.6,152.0 437.4,152.0 438.2,152.1 439.0,152.1 439.8,152.1 440.6,152.2 441.4,152.2 442.2,152.2 443.0,152.2 443.8,152.2 444.6,152.2" stroke="#006400" stroke-linecap="butt" stroke-dasharray="8.1 3.3 2.4 3.3"/>
<path d="M232.8,152.0 233.6,152.0 234.4,152.0 235.2,152.0 236.0,152.0 236.8,152.0 237.6,152.0 238.4,152.0 239.2,152.0 240.0,152.0 240.8,152.0 241.6,152.0 242.4,152.0 243.2,152.0 244.0,152.0 244.8,152.0 245.6,152.0 246.4,152.0 247.2,152.0 248.0,152.0 248.8,152.0 249.6,152.0 250.4,152.0 251.2,151.9 252.0,151.9 252.7,151.7 253.5,151.6 254.3,151.4 255.0,151.1 255.7,150.7 256.4,150.2 257.0,149.7 257.5,149.2 258.0,148.5 258.6,147.9 259.1,147.4 259.7,146.8 260.2,146.2 260.7,145.6 261.0,144.8 261.3,144.1 261.6,143.4 261.9,142.6 262.2,141.9 262.4,141.1 262.7,140.3 262.9,139.6 263.2,138.8 263.5,138.1 263.7,137.3 264.0,136.6 264.2,135.8 264.5,135.1 264.7,134.3 265.0,133.5 265.2,132.8 265.4,132.0 265.6,131.2 265.8,130.4 266.0,129.7 266.2,128.9 266.3,128.1 266.5,127.3 266.6,126.5 266.8,125.8 266.9,125.0 267.1,124.2 267.2,123.4 267.3,122.6 267.5,121.8 267.6,121.0 267.8,120.3 267.9,119.5 268.0,118.7 268.2,117.9 268.3,117.1 268.5,116.3 268.6,115.5 268.8,114.8 268.9,114.0 269.0,113.2 269.2,112.4 269.3,111.6 269.5,110.8 269.6,110.0 269.7,109.3 269.8,108.5 270.0,107.7 270.1,106.9 270.2,106.1 270.3,105.3 270.4,104.5 270.5,103.7 270.6,102.9 270.8,102.2 270.9,101.4 271.1,100.6 271.3,99.8 271.5,99.0 271.7,98.3 272.0,97.5 272.2,96.8 272.5,96.0 272.9,95.3 273.2,94.6 273.5,93.9 273.9,93.1 274.3,92.4 274.6,91.7 275.1,91.1 275.5,90.4 276.1,89.9 276.8,89.4 277.5,89.0 278.2,88.7 279.0,88.5 279.6,88.8 280.0,89.6 280.2,90.3 280.5,91.1 280.8,91.8 281.1,92.5 281.4,93.3 281.7,94.0 282.0,94.8 282.3,95.5 282.6,96.2 282.9,97.0 283.3,97.7 283.6,98.4 284.0,99.1 284.3,99.8 284.7,100.6 285.0,101.3 285.4,102.0 285.7,102.7 286.1,103.4 286.5,104.1 286.8,104.8 287.2,105.6 287.5,106.3 287.9,107.0 288.2,107.7 288.6,108.4 288.9,109.1 289.3,109.9 289.6,110.6 290.0,111.3 290.3,112.0 290.7,112.7 291.0,113.4 291.4,114.2 291.8,114.9 292.1,115.6 292.5,116.3 292.9,117.0 293.3,117.7 293.7,118.4 294.1,119.1 294.5,119.7 294.9,120.4 295.3,121.1 295.6,121.8 296.1,122.5 296.5,123.2 297.1,123.7 297.6,124.3 298.2,124.8 298.9,125.3 299.5,125.8 300.1,126.3 300.8,126.8 301.5,127.2 302.2,127.4 303.0,127.6 303.8,127.7 304.6,127.8 305.4,127.8 306.2,127.5 306.9,127.2 307.6,126.9 308.3,126.4 308.9,126.0 309.5,125.4 310.1,124.9 310.7,124.4 311.3,123.8 311.9,123.3 312.4,122.6 312.8,122.0 313.2,121.3 313.6,120.6 314.0,119.9 314.3,119.2 314.7,118.5 315.1,117.8 315.5,117.1 316.0,116.4 316.4,115.8 316.8,115.1 317.2,114.4 317.6,113.7 318.0,113.0 318.4,112.3 318.7,111.6 319.1,110.9 319.4,110.1 319.8,109.4 320.1,108.7 320.5,108.0 320.8,107.3 321.2,106.6 321.6,105.9 322.0,105.2 322.4,104.5 322.7,103.8 323.2,103.1 323.6,102.4 324.1,101.8 324.7,101.3 325.2,100.7 325.8,100.1 326.4,99.6 327.1,99.2 327.9,99.0 328.7,99.1 329.4,99.3 330.1,99.7 330.8,100.1 331.5,100.6 332.1,101.1 332.7,101.6 333.1,102.3 333.6,103.0 334.0,103.7 334.3,104.4 334.7,105.1 335.0,105.8 335.4,106.5 335.7,107.2 336.0,108.0 336.4,108.7 336.7,109.4 337.1,110.1 337.4,110.9 337.7,111.6 338.0,112.3 338.4,113.1 338.7,113.8 339.0,114.5 339.2,115.3 339.5,116.0 339.8,116.8 340.1,117.5 340.4,118.2 340.7,119.0 341.0,119.7 341.3,120.5 341.6,121.2 342.0,121.9 342.3,122.7 342.6,123.4 343.0,124.1 343.3,124.8 343.6,125.5 344.0,126.3 344.3,127.0 344.7,127.7 345.0,128.4 345.4,129.1 345.8,129.8 346.1,130.5 346.5,131.2 347.0,131.9 347.4,132.6 347.8,133.3 348.3,133.9 348.7,134.6 349.2,135.2 349.6,135.9 350.1,136.5 350.6,137.2 351.1,137.8 351.6,138.4 352.1,139.0 352.7,139.6 353.2,140.2 353.7,140.8 354.2,141.4 354.8,142.0 355.4,142.5 356.0,143.0 356.7,143.4 357.4,143.8 358.1,144.1 358.9,144.4 359.6,144.8 360.3,145.2 360.9,145.6 361.6,146.1 362.2,146.5 362.9,147.0 363.6,147.3 364.4,147.6 365.1,147.8 365.9,148.0 366.7,148.2 367.5,148.4 368.2,148.5 369.0,148.7 369.8,148.9 370.6,149.1 371.3,149.4 372.1,149.6 372.9,149.8 373.7,149.9 374.4,150.1 375.2,150.2 376.0,150.3 376.8,150.4 377.6,150.5 378.4,150.5 379.2,150.6 380.0,150.7 380.8,150.8 381.6,150.9 382.4,151.0 383.2,151.0 384.0,151.1 384.8,151.2 385.6,151.3 386.3,151.3 387.1,151.4 387.9,151.4 388.7,151.5 389.5,151.5 390.3,151.6 391.1,151.6 391.9,151.7 392.7,151.7 393.5,151.7 394.3,151.8 395.1,151.8 395.9,151.9 396.7,151.9 397.5,151.9 398.3,152.0 399.1,152.0 399.9,152.0 400.7,152.1 401.5,152.1 402.3,152.1 403.1,152.1 403.9,152.2 404.7,152.2 405.5,152.2 406.3,152.2 407.1,152.2 407.9,152.2 408.7,152.2 409.5,152.3 410.3,152.3 411.1,152.3 411.9,152.3 412.7,152.3 413.5,152.3 414.3,152.3 415.1,152.4 415.9,152.4 416.7,152.4 417.5,152.4 418.3,152.4 419.1,152.4 419.9,152.4 420.7,152.4 421.5,152.4 422.2,152.5 423.0,152.5 423.8,152.5 424.6,152.5 425.4,152.5 426.2,152.5 427.0,152.5 427.8,152.5 428.6,152.5 429.4,152.5 430.2,152.5 431.0,152.5 431.8,152.5 432.6,152.6 433.4,152.6 434.2,152.6 435.0,152.6 435.8,152.6 436.6,152.6 437.4,152.6 438.2,152.6 439.0,152.6 439.8,152.6 440.6,152.6 441.4,152.6 442.2,152.6 443.0,152.6 443.8,152.6 444.6,152.6" stroke="#0000ff" stroke-linecap="butt" stroke-dasharray="2.9 2.85"/>
</g>
<g clip-path="url(#cBL)" fill="none" stroke-width="2.75" stroke-linejoin="round">
<path d="M21.0,282.4 21.8,282.4 22.6,282.4 23.4,282.4 24.2,282.4 25.0,282.4 25.8,282.4 26.6,282.4 27.4,282.4 28.2,282.4 29.0,282.4 29.8,282.4 30.6,282.4 31.4,282.4 32.2,282.4 33.0,282.4 33.8,282.4 34.6,282.4 35.4,282.4 36.2,282.4 37.0,282.4 37.8,282.4 38.6,282.4 39.4,282.4 40.2,282.4 41.0,282.4 41.8,282.4 42.6,282.4 43.4,282.4 44.2,282.4 45.0,282.4 45.8,282.4 46.6,282.4 47.4,282.4 48.2,282.4 49.0,282.4 49.8,282.4 50.6,282.4 51.4,282.4 52.2,282.4 53.0,282.4 53.8,282.4 54.6,282.4 55.4,282.4 56.2,282.4 57.0,282.4 57.7,282.3 58.5,282.3 59.3,282.3 60.1,282.2 60.9,282.2 61.7,282.1 62.5,282.0 63.3,281.9 64.1,281.8 64.9,281.6 65.6,281.3 66.4,281.0 67.1,280.7 67.8,280.2 68.4,279.8 69.1,279.4 69.8,278.9 70.4,278.4 70.9,277.8 71.4,277.2 71.9,276.5 72.3,275.9 72.7,275.2 73.1,274.5 73.5,273.8 73.9,273.1 74.2,272.4 74.6,271.6 74.9,270.9 75.1,270.2 75.4,269.4 75.6,268.6 75.8,267.9 76.0,267.1 76.2,266.3 76.4,265.5 76.5,264.7 76.7,264.0 76.8,263.2 77.0,262.4 77.1,261.6 77.3,260.8 77.4,260.0 77.5,259.2 77.6,258.4 77.8,257.7 77.9,256.9 78.0,256.1 78.1,255.3 78.2,254.5 78.3,253.7 78.4,252.9 78.4,252.1 78.5,251.3 78.6,250.5 78.7,249.7 78.8,248.9 78.9,248.1 79.0,247.3 79.1,246.6 79.2,245.8 79.3,245.0 79.4,244.2 79.5,243.4 79.5,242.6 79.6,241.8 79.7,241.0 79.8,240.2 79.9,239.4 79.9,238.6 80.0,237.8 80.1,237.0 80.1,236.2 80.2,235.4 80.2,234.6 80.3,233.8 80.4,233.0 80.4,232.2 80.5,231.4 80.5,230.6 80.6,229.8 80.7,229.1 80.8,228.3 80.8,227.5 80.9,226.7 81.0,225.9 81.1,225.1 81.2,224.3 81.2,223.5 81.3,222.7 81.4,221.9 81.5,221.1 81.6,220.3 81.6,219.5 81.7,218.7 81.8,217.9 81.9,217.1 81.9,216.3 82.0,215.5 82.1,214.7 82.1,213.9 82.2,213.1 82.3,212.4 82.4,211.6 82.4,210.8 82.5,210.0 82.6,209.2 82.7,208.4 82.7,207.6 82.8,206.8 82.9,206.0 83.0,205.2 83.1,204.4 83.1,203.6 83.2,202.8 83.3,202.0 83.4,201.2 83.5,200.4 83.5,199.6 83.6,198.8 83.7,198.0 83.7,197.2 83.8,196.4 83.9,195.7 84.0,194.9 84.0,194.1 84.1,193.3 84.2,192.5 84.2,191.7 84.3,190.9 84.4,190.1 84.5,189.3 84.6,188.5 84.6,187.7 84.7,186.9 84.8,186.1 84.9,185.3 85.0,184.5 85.1,183.7 85.2,182.9 85.2,182.1 85.3,181.3 85.4,180.6 85.5,179.8 85.6,179.0 85.7,178.2 85.8,177.4 85.9,176.6 86.1,175.8 86.2,175.0 86.3,174.2 86.4,173.4 86.5,172.6 86.6,171.8 86.7,171.1 86.9,170.3 87.0,169.5 87.1,168.7 87.2,167.9 87.3,167.1 87.4,166.3 87.5,165.5 87.7,164.7 87.8,163.9 87.9,163.2 88.0,162.4 88.2,161.6 88.5,160.8 88.8,160.1 89.1,159.4 89.6,158.7 90.2,158.3 90.9,158.7 91.5,159.2 91.9,159.9 92.3,160.6 92.6,161.3 92.8,162.1 93.0,162.9 93.2,163.7 93.4,164.4 93.6,165.2 93.7,166.0 93.9,166.8 94.1,167.6 94.2,168.3 94.4,169.1 94.6,169.9 94.7,170.7 94.9,171.5 95.1,172.2 95.2,173.0 95.4,173.8 95.5,174.6 95.7,175.4 95.8,176.2 95.9,177.0 96.1,177.7 96.2,178.5 96.4,179.3 96.5,180.1 96.7,180.9 96.8,181.7 96.9,182.5 97.1,183.2 97.2,184.0 97.4,184.8 97.5,185.6 97.6,186.4 97.8,187.2 97.9,188.0 98.1,188.8 98.2,189.5 98.4,190.3 98.5,191.1 98.7,191.9 98.8,192.7 99.0,193.4 99.2,194.2 99.3,195.0 99.5,195.8 99.7,196.6 99.9,197.4 100.0,198.1 100.2,198.9 100.4,199.7 100.6,200.5 100.8,201.2 101.0,202.0 101.2,202.8 101.4,203.5 101.7,204.3 101.9,205.1 102.1,205.8 102.3,206.6 102.6,207.4 102.8,208.1 103.0,208.9 103.2,209.7 103.4,210.5 103.6,211.2 103.8,212.0 104.0,212.8 104.2,213.5 104.4,214.3 104.6,215.1 104.8,215.9 105.0,216.6 105.2,217.4 105.4,218.2 105.6,219.0 105.8,219.7 106.0,220.5 106.2,221.3 106.4,222.1 106.6,222.8 106.8,223.6 107.0,224.4 107.2,225.2 107.4,225.9 107.6,226.7 107.8,227.5 108.0,228.3 108.2,229.0 108.4,229.8 108.5,230.6 108.7,231.4 108.9,232.1 109.0,232.9 109.2,233.7 109.4,234.5 109.5,235.3 109.7,236.1 109.8,236.8 110.0,237.6 110.2,238.4 110.4,239.2 110.6,240.0 110.8,240.7 111.0,241.5 111.3,242.2 111.5,243.0 111.8,243.8 112.0,244.5 112.3,245.3 112.6,246.0 112.9,246.7 113.3,247.5 113.6,248.2 113.9,248.9 114.3,249.6 114.7,250.3 115.0,251.0 115.4,251.8 115.8,252.5 116.2,253.1 116.6,253.8 117.1,254.5 117.6,255.1 118.1,255.7 118.7,256.3 119.3,256.7 120.0,257.1 120.7,257.5 121.4,257.9 122.1,258.2 122.9,258.6 123.6,258.8 124.4,259.0 125.2,259.2 126.0,259.2 126.8,259.1 127.6,259.0 128.3,258.7 129.1,258.4 129.8,258.1 130.5,257.7 131.1,257.3 131.8,256.8 132.5,256.4 133.1,255.9 133.7,255.4 134.2,254.8 134.7,254.1 135.2,253.5 135.6,252.8 136.0,252.1 136.4,251.4 136.8,250.7 137.2,250.0 137.5,249.3 137.9,248.6 138.2,247.9 138.6,247.2 139.0,246.5 139.3,245.8 139.7,245.0 140.1,244.3 140.5,243.6 140.8,242.9 141.2,242.2 141.5,241.5 141.8,240.7 142.1,240.0 142.5,239.3 142.8,238.6 143.1,237.8 143.4,237.1 143.8,236.4 144.1,235.6 144.4,234.9 144.8,234.2 145.2,233.5 145.5,232.8 145.9,232.1 146.4,231.4 146.8,230.7 147.2,230.0 147.6,229.4 148.0,228.7 148.5,228.0 148.9,227.4 149.4,226.7 149.9,226.1 150.5,225.6 151.2,225.2 151.9,224.8 152.7,224.5 153.4,224.3 154.2,224.2 155.0,224.4 155.7,224.8 156.3,225.3 156.9,225.8 157.4,226.4 158.0,227.0 158.5,227.6 158.9,228.3 159.2,229.0 159.5,229.8 159.8,230.5 160.1,231.2 160.4,232.0 160.7,232.7 161.0,233.5 161.3,234.2 161.6,235.0 161.9,235.7 162.2,236.4 162.5,237.2 162.8,237.9 163.1,238.7 163.4,239.4 163.7,240.1 164.0,240.9 164.3,241.6 164.6,242.4 164.9,243.1 165.2,243.8 165.5,244.6 165.8,245.3 166.1,246.0 166.5,246.8 166.8,247.5 167.1,248.2 167.4,249.0 167.8,249.7 168.1,250.4 168.5,251.1 168.8,251.8 169.2,252.6 169.5,253.3 169.9,254.0 170.3,254.7 170.6,255.4 171.0,256.1 171.4,256.8 171.7,257.5 172.1,258.2 172.5,258.9 172.9,259.6 173.3,260.3 173.7,261.0 174.0,261.7 174.4,262.4 174.8,263.1 175.3,263.8 175.7,264.5 176.1,265.2 176.5,265.8 177.0,266.5 177.4,267.1 177.9,267.8 178.4,268.4 178.9,269.1 179.3,269.7 179.9,270.3 180.4,270.9 180.9,271.5 181.5,272.1 182.0,272.7 182.6,273.2 183.2,273.8 183.8,274.3 184.4,274.8 185.0,275.3 185.6,275.8 186.3,276.3 186.9,276.8 187.6,277.1 188.4,277.4 189.1,277.7 189.9,277.9 190.6,278.2 191.4,278.4 192.2,278.6 193.0,278.8 193.8,278.9 194.5,279.1 195.3,279.2 196.1,279.4 196.9,279.5 197.7,279.6 198.5,279.7 199.3,279.7 200.1,279.8 200.9,279.9 201.7,280.0 202.5,280.0 203.3,280.1 204.1,280.2 204.9,280.2 205.7,280.3 206.4,280.3 207.2,280.4 208.0,280.4 208.8,280.5 209.6,280.5 210.4,280.5 211.2,280.6 212.0,280.6 212.8,280.6 213.6,280.7 214.4,280.7 215.2,280.7 216.0,280.7 216.8,280.7 217.6,280.8 218.4,280.8 219.2,280.8 220.0,280.8 220.8,280.8 221.6,280.9 222.4,280.9 223.2,280.9 224.0,280.9 224.8,280.9 225.6,280.9 226.4,281.0 227.2,281.0 228.0,281.0 228.8,281.0 229.6,281.0 230.4,281.0 231.2,281.0 232.0,281.0 232.8,281.0" stroke="#000000" stroke-linecap="round"/>
<path d="M21.0,282.2 21.8,282.2 22.6,282.2 23.4,282.2 24.2,282.2 25.0,282.2 25.8,282.2 26.6,282.2 27.4,282.2 28.2,282.2 29.0,282.2 29.8,282.2 30.6,282.2 31.4,282.2 32.2,282.2 33.0,282.2 33.8,282.2 34.6,282.2 35.4,282.2 36.2,282.2 37.0,282.2 37.8,282.2 38.6,282.2 39.4,282.2 40.2,282.2 41.0,282.2 41.8,282.2 42.6,282.2 43.4,282.2 44.2,282.2 45.0,282.2 45.8,282.2 46.6,282.2 47.4,282.2 48.2,282.2 49.0,282.2 49.8,282.2 50.6,282.2 51.4,282.2 52.2,282.2 53.0,282.2 53.8,282.2 54.6,282.2 55.4,282.2 56.2,282.2 57.0,282.2 57.8,282.1 58.6,282.1 59.4,282.1 60.2,282.0 61.0,282.0 61.8,281.9 62.6,281.8 63.4,281.7 64.1,281.5 64.9,281.3 65.7,281.1 66.4,280.8 67.1,280.4 67.8,280.0 68.5,279.6 69.1,279.1 69.8,278.6 70.4,278.1 70.9,277.5 71.4,276.9 71.9,276.3 72.3,275.6 72.8,274.9 73.2,274.2 73.6,273.5 73.9,272.8 74.3,272.1 74.6,271.4 74.9,270.6 75.2,269.9 75.4,269.1 75.7,268.3 75.9,267.6 76.1,266.8 76.2,266.0 76.4,265.2 76.6,264.5 76.7,263.7 76.9,262.9 77.0,262.1 77.2,261.3 77.3,260.5 77.4,259.7 77.6,258.9 77.7,258.2 77.8,257.4 77.9,256.6 78.0,255.8 78.1,255.0 78.2,254.2 78.3,253.4 78.4,252.6 78.5,251.8 78.6,251.0 78.7,250.2 78.8,249.4 78.9,248.6 79.0,247.8 79.1,247.0 79.1,246.2 79.2,245.5 79.3,244.7 79.4,243.9 79.5,243.1 79.6,242.3 79.7,241.5 79.7,240.7 79.8,239.9 79.9,239.1 79.9,238.3 80.0,237.5 80.1,236.7 80.1,235.9 80.2,235.1 80.3,234.3 80.3,233.5 80.4,232.7 80.4,231.9 80.5,231.1 80.6,230.3 80.6,229.5 80.7,228.7 80.8,227.9 80.9,227.1 81.0,226.3 81.0,225.5 81.1,224.7 81.2,224.0 81.3,223.2 81.4,222.4 81.4,221.6 81.5,220.8 81.6,220.0 81.7,219.2 81.8,218.4 81.8,217.6 81.9,216.8 82.0,216.0 82.0,215.2 82.1,214.4 82.2,213.6 82.2,212.8 82.3,212.0 82.4,211.2 82.5,210.4 82.5,209.6 82.6,208.8 82.7,208.0 82.8,207.2 82.9,206.4 82.9,205.6 83.0,204.8 83.1,204.0 83.2,203.3 83.3,202.5 83.3,201.7 83.4,200.9 83.5,200.1 83.6,199.3 83.6,198.5 83.7,197.7 83.8,196.9 83.9,196.1 83.9,195.3 84.0,194.5 84.1,193.7 84.1,192.9 84.2,192.1 84.3,191.3 84.4,190.5 84.4,189.7 84.5,188.9 84.6,188.1 84.7,187.3 84.8,186.5 84.8,185.7 84.9,184.9 85.0,184.1 85.1,183.3 85.2,182.6 85.3,181.8 85.4,181.0 85.5,180.2 85.6,179.4 85.7,178.6 85.8,177.8 85.9,177.0 86.0,176.2 86.1,175.4 86.2,174.6 86.3,173.8 86.4,173.0 86.6,172.2 86.7,171.5 86.8,170.7 86.9,169.9 87.0,169.1 87.1,168.3 87.3,167.5 87.4,166.7 87.5,165.9 87.6,165.1 87.7,164.3 87.8,163.5 88.0,162.8 88.1,162.0 88.3,161.2 88.6,160.5 89.0,159.7 89.3,159.0 89.9,158.4 90.6,158.4 91.3,158.8 91.9,159.3 92.4,159.9 92.8,160.6 93.1,161.4 93.3,162.1 93.5,162.9 93.7,163.7 93.9,164.5 94.0,165.2 94.2,166.0 94.3,166.8 94.5,167.6 94.7,168.4 94.8,169.2 95.0,169.9 95.2,170.7 95.3,171.5 95.5,172.3 95.6,173.1 95.8,173.9 95.9,174.6 96.1,175.4 96.2,176.2 96.4,177.0 96.6,177.8 96.7,178.6 96.9,179.4 97.0,180.1 97.2,180.9 97.4,181.7 97.5,182.5 97.7,183.3 97.9,184.1 98.0,184.8 98.2,185.6 98.4,186.4 98.6,187.2 98.7,188.0 98.9,188.7 99.1,189.5 99.3,190.3 99.4,191.1 99.6,191.9 99.8,192.6 99.9,193.4 100.1,194.2 100.3,195.0 100.4,195.8 100.6,196.6 100.8,197.3 101.0,198.1 101.1,198.9 101.3,199.7 101.5,200.4 101.7,201.2 101.9,202.0 102.1,202.8 102.3,203.6 102.5,204.3 102.7,205.1 102.9,205.9 103.1,206.6 103.3,207.4 103.5,208.2 103.7,209.0 103.9,209.7 104.1,210.5 104.3,211.3 104.6,212.1 104.8,212.8 105.0,213.6 105.2,214.4 105.4,215.1 105.6,215.9 105.9,216.7 106.1,217.4 106.3,218.2 106.5,219.0 106.7,219.7 106.9,220.5 107.2,221.3 107.4,222.1 107.6,222.8 107.8,223.6 108.0,224.4 108.3,225.1 108.5,225.9 108.7,226.7 108.9,227.4 109.1,228.2 109.3,229.0 109.5,229.8 109.7,230.5 109.9,231.3 110.1,232.1 110.3,232.9 110.4,233.7 110.6,234.4 110.8,235.2 111.0,236.0 111.1,236.8 111.3,237.6 111.5,238.3 111.7,239.1 112.0,239.9 112.2,240.6 112.5,241.4 112.7,242.1 113.0,242.9 113.3,243.6 113.6,244.4 113.8,245.1 114.1,245.9 114.5,246.6 114.8,247.3 115.1,248.1 115.5,248.8 115.9,249.5 116.3,250.1 116.8,250.8 117.4,251.4 117.9,251.9 118.5,252.5 119.1,253.0 119.8,253.4 120.4,253.9 121.1,254.3 121.9,254.6 122.6,254.9 123.4,255.1 124.2,255.3 125.0,255.4 125.7,255.5 126.5,255.6 127.3,255.6 128.1,255.5 128.9,255.3 129.7,255.0 130.4,254.7 131.1,254.3 131.8,253.8 132.4,253.4 133.1,252.9 133.6,252.4 134.1,251.7 134.5,251.0 134.9,250.3 135.3,249.6 135.6,248.9 136.0,248.2 136.3,247.5 136.7,246.8 137.1,246.1 137.4,245.3 137.8,244.6 138.2,243.9 138.5,243.2 138.8,242.5 139.2,241.8 139.5,241.0 139.9,240.3 140.2,239.6 140.5,238.8 140.8,238.1 141.2,237.4 141.5,236.6 141.8,235.9 142.1,235.2 142.4,234.4 142.7,233.7 143.0,232.9 143.3,232.2 143.6,231.5 143.9,230.7 144.2,230.0 144.5,229.2 144.8,228.5 145.2,227.8 145.5,227.1 145.8,226.3 146.2,225.6 146.5,224.9 146.9,224.2 147.2,223.4 147.6,222.7 147.9,222.0 148.3,221.3 148.6,220.6 149.0,219.9 149.4,219.2 149.8,218.5 150.3,217.8 150.8,217.2 151.4,216.7 152.0,216.1 152.6,215.6 153.3,215.2 154.0,215.0 154.8,215.2 155.4,215.7 156.0,216.2 156.5,216.9 157.0,217.5 157.5,218.1 157.9,218.8 158.3,219.5 158.6,220.2 158.9,221.0 159.3,221.7 159.6,222.4 159.9,223.2 160.2,223.9 160.5,224.7 160.8,225.4 161.1,226.1 161.3,226.9 161.6,227.6 161.9,228.4 162.1,229.2 162.4,229.9 162.6,230.7 162.8,231.5 163.1,232.2 163.3,233.0 163.5,233.8 163.7,234.5 164.0,235.3 164.2,236.1 164.4,236.8 164.6,237.6 164.9,238.4 165.1,239.1 165.3,239.9 165.6,240.7 165.8,241.4 166.1,242.2 166.3,242.9 166.6,243.7 166.8,244.4 167.1,245.2 167.4,246.0 167.6,246.7 167.9,247.5 168.1,248.2 168.4,249.0 168.7,249.7 169.0,250.5 169.3,251.2 169.6,252.0 169.9,252.7 170.2,253.4 170.5,254.2 170.8,254.9 171.2,255.6 171.5,256.4 171.8,257.1 172.2,257.8 172.5,258.5 172.9,259.2 173.3,259.9 173.7,260.6 174.0,261.3 174.4,262.0 174.8,262.7 175.2,263.4 175.7,264.1 176.1,264.8 176.5,265.5 176.9,266.1 177.4,266.8 177.8,267.5 178.3,268.1 178.7,268.8 179.2,269.4 179.7,270.0 180.2,270.7 180.8,271.3 181.3,271.8 181.9,272.4 182.4,273.0 183.0,273.5 183.6,274.1 184.2,274.6 184.8,275.1 185.4,275.6 186.1,276.1 186.8,276.5 187.5,276.8 188.3,277.1 189.0,277.3 189.8,277.5 190.6,277.7 191.3,277.9 192.1,278.1 192.9,278.3 193.7,278.4 194.5,278.5 195.3,278.7 196.1,278.8 196.9,278.9 197.7,279.0 198.5,279.0 199.2,279.1 200.0,279.2 200.8,279.3 201.6,279.4 202.4,279.4 203.2,279.5 204.0,279.6 204.8,279.6 205.6,279.7 206.4,279.7 207.2,279.8 208.0,279.8 208.8,279.9 209.6,279.9 210.4,279.9 211.2,280.0 212.0,280.0 212.8,280.0 213.6,280.0 214.4,280.1 215.2,280.1 216.0,280.1 216.8,280.1 217.6,280.2 218.4,280.2 219.2,280.2 220.0,280.2 220.8,280.2 221.6,280.3 222.4,280.3 223.2,280.3 224.0,280.3 224.8,280.3 225.6,280.3 226.4,280.4 227.2,280.4 228.0,280.4 228.8,280.4 229.6,280.4 230.4,280.4 231.2,280.4 232.0,280.4 232.8,280.4" stroke="#ff0000" stroke-linecap="butt" stroke-dasharray="14.3 3"/>
<path d="M21.0,282.5 21.8,282.5 22.6,282.5 23.4,282.5 24.2,282.5 25.0,282.5 25.8,282.5 26.6,282.5 27.4,282.5 28.2,282.5 29.0,282.5 29.8,282.5 30.6,282.5 31.4,282.5 32.2,282.5 33.0,282.5 33.8,282.5 34.6,282.5 35.4,282.5 36.2,282.5 37.0,282.5 37.8,282.5 38.6,282.5 39.4,282.5 40.2,282.5 41.0,282.5 41.8,282.5 42.6,282.5 43.4,282.5 44.2,282.5 45.0,282.5 45.8,282.5 46.6,282.5 47.4,282.5 48.2,282.5 49.0,282.5 49.8,282.5 50.6,282.5 51.4,282.5 52.2,282.5 53.0,282.5 53.8,282.5 54.6,282.5 55.4,282.5 56.2,282.5 56.9,282.5 57.7,282.4 58.5,282.4 59.3,282.4 60.1,282.3 60.9,282.3 61.7,282.2 62.5,282.1 63.3,282.0 64.1,281.9 64.9,281.7 65.6,281.4 66.4,281.1 67.1,280.8 67.8,280.3 68.4,279.9 69.1,279.4 69.7,278.9 70.3,278.4 70.8,277.8 71.3,277.2 71.8,276.5 72.2,275.8 72.6,275.2 73.0,274.5 73.4,273.8 73.8,273.1 74.1,272.4 74.5,271.6 74.8,270.9 75.1,270.1 75.3,269.4 75.5,268.6 75.7,267.8 75.9,267.1 76.1,266.3 76.3,265.5 76.4,264.7 76.6,263.9 76.7,263.2 76.9,262.4 77.0,261.6 77.2,260.8 77.3,260.0 77.4,259.2 77.5,258.4 77.7,257.6 77.8,256.8 77.9,256.1 78.0,255.3 78.1,254.5 78.2,253.7 78.3,252.9 78.4,252.1 78.4,251.3 78.5,250.5 78.6,249.7 78.7,248.9 78.8,248.1 78.9,247.3 79.0,246.5 79.1,245.7 79.2,245.0 79.3,244.2 79.4,243.4 79.4,242.6 79.5,241.8 79.6,241.0 79.7,240.2 79.8,239.4 79.8,238.6 79.9,237.8 80.0,237.0 80.0,236.2 80.1,235.4 80.1,234.6 80.2,233.8 80.3,233.0 80.3,232.2 80.4,231.4 80.4,230.6 80.5,229.8 80.6,229.0 80.7,228.2 80.7,227.4 80.8,226.7 80.9,225.9 81.0,225.1 81.1,224.3 81.2,223.5 81.2,222.7 81.3,221.9 81.4,221.1 81.5,220.3 81.5,219.5 81.6,218.7 81.7,217.9 81.8,217.1 81.8,216.3 81.9,215.5 82.0,214.7 82.0,213.9 82.1,213.1 82.2,212.3 82.3,211.5 82.3,210.7 82.4,209.9 82.5,209.2 82.6,208.4 82.6,207.6 82.7,206.8 82.8,206.0 82.9,205.2 83.0,204.4 83.0,203.6 83.1,202.8 83.2,202.0 83.3,201.2 83.4,200.4 83.4,199.6 83.5,198.8 83.6,198.0 83.7,197.2 83.7,196.4 83.8,195.6 83.9,194.8 83.9,194.0 84.0,193.2 84.1,192.5 84.1,191.7 84.2,190.9 84.3,190.1 84.4,189.3 84.5,188.5 84.5,187.7 84.6,186.9 84.7,186.1 84.8,185.3 84.9,184.5 85.0,183.7 85.1,182.9 85.1,182.1 85.2,181.3 85.3,180.5 85.4,179.7 85.5,179.0 85.6,178.2 85.7,177.4 85.8,176.6 86.0,175.8 86.1,175.0 86.2,174.2 86.3,173.4 86.4,172.6 86.5,171.8 86.6,171.0 86.8,170.3 86.9,169.5 87.0,168.7 87.1,167.9 87.2,167.1 87.3,166.3 87.4,165.5 87.6,164.7 87.7,163.9 87.8,163.1 88.0,162.4 88.1,161.6 88.4,160.8 88.7,160.1 89.0,159.4 89.4,158.7 90.1,158.3 90.8,158.6 91.4,159.2 91.9,159.8 92.3,160.5 92.5,161.3 92.8,162.0 92.9,162.8 93.1,163.6 93.3,164.4 93.5,165.2 93.6,165.9 93.8,166.7 93.9,167.5 94.1,168.3 94.2,169.1 94.4,169.9 94.5,170.6 94.7,171.4 94.8,172.2 95.0,173.0 95.1,173.8 95.2,174.6 95.3,175.4 95.5,176.2 95.6,176.9 95.7,177.7 95.9,178.5 96.0,179.3 96.1,180.1 96.2,180.9 96.4,181.7 96.5,182.5 96.6,183.3 96.8,184.0 96.9,184.8 97.0,185.6 97.2,186.4 97.3,187.2 97.4,188.0 97.6,188.8 97.7,189.6 97.9,190.3 98.0,191.1 98.2,191.9 98.3,192.7 98.5,193.5 98.7,194.3 98.8,195.0 99.0,195.8 99.2,196.6 99.4,197.4 99.5,198.1 99.7,198.9 99.9,199.7 100.1,200.5 100.3,201.2 100.5,202.0 100.8,202.8 101.0,203.6 101.2,204.3 101.4,205.1 101.7,205.8 101.9,206.6 102.1,207.4 102.4,208.1 102.6,208.9 102.8,209.7 103.0,210.4 103.2,211.2 103.4,212.0 103.6,212.8 103.8,213.5 104.0,214.3 104.2,215.1 104.4,215.9 104.6,216.6 104.8,217.4 105.0,218.2 105.1,219.0 105.3,219.7 105.5,220.5 105.7,221.3 105.9,222.1 106.1,222.9 106.3,223.6 106.5,224.4 106.7,225.2 106.9,226.0 107.0,226.7 107.2,227.5 107.4,228.3 107.6,229.1 107.8,229.8 107.9,230.6 108.1,231.4 108.3,232.2 108.4,233.0 108.6,233.8 108.7,234.5 108.9,235.3 109.0,236.1 109.2,236.9 109.4,237.7 109.5,238.5 109.7,239.2 109.9,240.0 110.1,240.8 110.3,241.5 110.6,242.3 110.8,243.1 111.1,243.8 111.3,244.6 111.6,245.3 111.9,246.1 112.2,246.8 112.4,247.6 112.7,248.3 113.0,249.1 113.3,249.8 113.6,250.6 113.9,251.3 114.2,252.0 114.6,252.7 115.0,253.4 115.4,254.1 115.9,254.8 116.3,255.4 116.8,256.0 117.4,256.6 117.9,257.2 118.5,257.8 119.0,258.3 119.7,258.8 120.3,259.3 121.0,259.8 121.6,260.2 122.3,260.6 123.0,261.0 123.7,261.4 124.4,261.7 125.2,261.9 126.0,262.0 126.8,262.0 127.6,261.9 128.4,261.7 129.2,261.5 129.9,261.3 130.7,261.0 131.4,260.7 132.1,260.4 132.9,260.1 133.6,259.7 134.3,259.3 134.9,258.8 135.4,258.2 135.9,257.6 136.4,256.9 136.8,256.3 137.2,255.6 137.6,254.9 138.0,254.2 138.4,253.5 138.8,252.8 139.2,252.1 139.7,251.5 140.1,250.8 140.6,250.2 141.0,249.5 141.5,248.8 141.9,248.2 142.3,247.5 142.8,246.8 143.2,246.1 143.7,245.5 144.1,244.8 144.6,244.2 145.1,243.6 145.6,242.9 146.1,242.4 146.7,241.8 147.2,241.2 147.8,240.6 148.3,240.0 148.9,239.5 149.6,239.0 150.2,238.6 151.0,238.3 151.8,238.1 152.5,238.0 153.3,237.8 154.1,237.8 154.9,237.9 155.7,238.2 156.3,238.6 157.0,239.1 157.6,239.6 158.2,240.2 158.6,240.8 159.0,241.5 159.4,242.2 159.7,243.0 160.0,243.7 160.3,244.4 160.6,245.2 160.9,245.9 161.2,246.7 161.5,247.4 161.8,248.1 162.2,248.9 162.5,249.6 162.9,250.3 163.2,251.0 163.6,251.7 163.9,252.5 164.3,253.2 164.6,253.9 165.0,254.6 165.3,255.3 165.7,256.0 166.0,256.7 166.4,257.4 166.8,258.2 167.2,258.8 167.6,259.5 168.0,260.2 168.4,260.9 168.8,261.6 169.2,262.3 169.6,263.0 170.0,263.7 170.5,264.3 170.9,265.0 171.4,265.7 171.8,266.3 172.3,266.9 172.8,267.5 173.4,268.2 173.9,268.8 174.4,269.3 175.0,269.9 175.5,270.5 176.1,271.1 176.7,271.6 177.2,272.2 177.7,272.8 178.3,273.4 178.8,274.0 179.3,274.6 179.9,275.2 180.4,275.8 181.0,276.3 181.6,276.8 182.3,277.2 183.0,277.6 183.8,277.9 184.5,278.2 185.2,278.6 186.0,278.9 186.7,279.1 187.5,279.4 188.2,279.6 189.0,279.9 189.8,280.1 190.5,280.2 191.3,280.4 192.1,280.5 192.9,280.6 193.7,280.7 194.5,280.8 195.3,280.9 196.1,281.0 196.9,281.1 197.7,281.2 198.5,281.3 199.3,281.3 200.1,281.4 200.9,281.4 201.7,281.5 202.4,281.5 203.2,281.6 204.0,281.6 204.8,281.6 205.6,281.7 206.4,281.7 207.2,281.7 208.0,281.7 208.8,281.7 209.6,281.8 210.4,281.8 211.2,281.8 212.0,281.8 212.8,281.8 213.6,281.9 214.4,281.9 215.2,281.9 216.0,281.9 216.8,281.9 217.6,282.0 218.4,282.0 219.2,282.0 220.0,282.0 220.8,282.0 221.6,282.0 222.4,282.0 223.2,282.0 224.0,282.0 224.8,282.1 225.6,282.1 226.4,282.1 227.2,282.1 228.0,282.1 228.8,282.1 229.6,282.1 230.4,282.1 231.2,282.1 232.0,282.1 232.8,282.1" stroke="#006400" stroke-linecap="butt" stroke-dasharray="8.1 3.3 2.4 3.3"/>
<path d="M21.0,282.6 21.8,282.6 22.6,282.6 23.4,282.6 24.2,282.6 25.0,282.6 25.8,282.6 26.6,282.6 27.4,282.6 28.2,282.6 29.0,282.6 29.8,282.6 30.6,282.6 31.4,282.6 32.2,282.6 33.0,282.6 33.8,282.6 34.6,282.6 35.4,282.6 36.2,282.6 37.0,282.6 37.8,282.6 38.6,282.6 39.4,282.6 40.2,282.6 41.0,282.6 41.8,282.6 42.6,282.6 43.4,282.6 44.2,282.6 45.0,282.6 45.8,282.6 46.6,282.6 47.4,282.6 48.2,282.6 49.0,282.6 49.8,282.6 50.6,282.6 51.4,282.6 52.2,282.6 53.0,282.6 53.8,282.6 54.6,282.6 55.4,282.6 56.2,282.6 57.0,282.6 57.8,282.5 58.6,282.5 59.4,282.5 60.2,282.4 61.0,282.4 61.8,282.3 62.6,282.2 63.3,282.1 64.1,281.9 64.9,281.7 65.7,281.5 66.4,281.2 67.1,280.8 67.8,280.4 68.5,280.0 69.1,279.5 69.7,279.0 70.3,278.5 70.8,277.9 71.3,277.2 71.7,276.5 72.1,275.8 72.5,275.1 72.9,274.5 73.3,273.8 73.7,273.1 74.0,272.3 74.4,271.6 74.7,270.9 75.0,270.1 75.2,269.4 75.4,268.6 75.6,267.8 75.8,267.0 76.0,266.3 76.2,265.5 76.3,264.7 76.5,263.9 76.6,263.1 76.8,262.3 76.9,261.6 77.1,260.8 77.2,260.0 77.3,259.2 77.4,258.4 77.6,257.6 77.7,256.8 77.8,256.0 77.9,255.2 78.0,254.4 78.1,253.6 78.2,252.9 78.3,252.1 78.3,251.3 78.4,250.5 78.5,249.7 78.6,248.9 78.7,248.1 78.8,247.3 78.9,246.5 79.0,245.7 79.1,244.9 79.2,244.1 79.3,243.3 79.4,242.5 79.4,241.7 79.5,240.9 79.6,240.1 79.7,239.3 79.7,238.6 79.8,237.8 79.9,237.0 79.9,236.2 80.0,235.4 80.0,234.6 80.1,233.8 80.2,233.0 80.2,232.2 80.3,231.4 80.3,230.6 80.4,229.8 80.5,229.0 80.6,228.2 80.6,227.4 80.7,226.6 80.8,225.8 80.9,225.0 81.0,224.2 81.1,223.4 81.1,222.6 81.2,221.8 81.3,221.0 81.4,220.2 81.5,219.4 81.5,218.6 81.6,217.9 81.7,217.1 81.7,216.3 81.8,215.5 81.9,214.7 81.9,213.9 82.0,213.1 82.1,212.3 82.2,211.5 82.2,210.7 82.3,209.9 82.4,209.1 82.5,208.3 82.5,207.5 82.6,206.7 82.7,205.9 82.8,205.1 82.9,204.3 83.0,203.5 83.0,202.7 83.1,201.9 83.2,201.1 83.3,200.3 83.3,199.5 83.4,198.8 83.5,198.0 83.6,197.2 83.6,196.4 83.7,195.6 83.8,194.8 83.8,194.0 83.9,193.2 84.0,192.4 84.0,191.6 84.1,190.8 84.2,190.0 84.3,189.2 84.4,188.4 84.4,187.6 84.5,186.8 84.6,186.0 84.7,185.2 84.8,184.4 84.9,183.6 85.0,182.8 85.1,182.0 85.1,181.3 85.2,180.5 85.3,179.7 85.4,178.9 85.5,178.1 85.6,177.3 85.8,176.5 85.9,175.7 86.0,174.9 86.1,174.1 86.2,173.3 86.3,172.5 86.4,171.7 86.6,171.0 86.7,170.2 86.8,169.4 86.9,168.6 87.0,167.8 87.1,167.0 87.2,166.2 87.4,165.4 87.5,164.6 87.6,163.8 87.7,163.0 87.9,162.3 88.1,161.5 88.3,160.7 88.6,160.0 88.9,159.3 89.4,158.6 90.1,158.3 90.8,158.7 91.3,159.3 91.8,159.9 92.2,160.6 92.5,161.4 92.7,162.1 92.8,162.9 93.0,163.7 93.2,164.5 93.3,165.3 93.5,166.0 93.6,166.8 93.8,167.6 93.9,168.4 94.0,169.2 94.2,170.0 94.3,170.8 94.5,171.5 94.6,172.3 94.7,173.1 94.9,173.9 95.0,174.7 95.1,175.5 95.2,176.3 95.3,177.1 95.5,177.9 95.6,178.7 95.7,179.4 95.8,180.2 96.0,181.0 96.1,181.8 96.2,182.6 96.4,183.4 96.5,184.2 96.6,185.0 96.7,185.8 96.9,186.5 97.0,187.3 97.2,188.1 97.3,188.9 97.4,189.7 97.6,190.5 97.7,191.3 97.9,192.0 98.0,192.8 98.2,193.6 98.4,194.4 98.5,195.2 98.7,196.0 98.8,196.7 99.0,197.5 99.2,198.3 99.4,199.1 99.6,199.9 99.8,200.6 100.0,201.4 100.2,202.2 100.4,202.9 100.7,203.7 100.9,204.5 101.1,205.2 101.4,206.0 101.6,206.8 101.9,207.5 102.1,208.3 102.3,209.0 102.5,209.8 102.8,210.6 103.0,211.4 103.2,212.1 103.3,212.9 103.5,213.7 103.7,214.5 103.9,215.2 104.1,216.0 104.3,216.8 104.4,217.6 104.6,218.4 104.8,219.1 105.0,219.9 105.2,220.7 105.3,221.5 105.5,222.3 105.7,223.0 105.9,223.8 106.1,224.6 106.3,225.4 106.5,226.1 106.6,226.9 106.8,227.7 107.0,228.5 107.1,229.3 107.3,230.0 107.5,230.8 107.6,231.6 107.8,232.4 107.9,233.2 108.0,234.0 108.2,234.8 108.3,235.6 108.4,236.3 108.6,237.1 108.7,237.9 108.9,238.7 109.1,239.5 109.3,240.2 109.5,241.0 109.7,241.8 110.0,242.5 110.3,243.3 110.6,244.0 110.9,244.8 111.2,245.5 111.5,246.2 111.8,247.0 112.1,247.7 112.4,248.5 112.7,249.2 113.0,249.9 113.3,250.7 113.6,251.4 114.0,252.1 114.3,252.8 114.7,253.5 115.1,254.2 115.6,254.9 116.0,255.6 116.5,256.2 117.0,256.9 117.4,257.5 117.9,258.1 118.5,258.7 119.0,259.3 119.6,259.9 120.2,260.4 120.8,260.9 121.5,261.3 122.2,261.7 122.8,262.1 123.5,262.5 124.3,262.9 125.0,263.2 125.8,263.4 126.5,263.6 127.3,263.6 128.1,263.5 128.9,263.4 129.7,263.1 130.4,262.9 131.2,262.5 131.9,262.2 132.6,261.8 133.3,261.4 134.0,261.0 134.6,260.5 135.2,259.9 135.7,259.3 136.1,258.7 136.5,258.0 137.0,257.3 137.4,256.6 137.8,255.9 138.1,255.2 138.5,254.5 138.9,253.8 139.3,253.1 139.7,252.4 140.2,251.8 140.6,251.1 141.0,250.4 141.4,249.7 141.7,249.0 142.1,248.3 142.5,247.6 142.9,246.9 143.4,246.2 143.8,245.6 144.3,244.9 144.8,244.3 145.3,243.7 145.9,243.1 146.4,242.6 147.0,242.0 147.5,241.4 148.1,240.8 148.6,240.2 149.2,239.7 149.8,239.2 150.5,238.7 151.2,238.4 152.0,238.2 152.8,238.0 153.5,237.8 154.3,237.8 155.1,238.0 155.8,238.4 156.4,238.9 157.0,239.5 157.6,240.0 158.1,240.6 158.6,241.3 159.0,242.0 159.3,242.7 159.6,243.4 160.0,244.1 160.3,244.9 160.6,245.6 160.9,246.4 161.2,247.1 161.5,247.8 161.8,248.6 162.1,249.3 162.5,250.0 162.8,250.7 163.2,251.5 163.5,252.2 163.9,252.9 164.2,253.6 164.6,254.3 164.9,255.1 165.3,255.8 165.7,256.5 166.0,257.2 166.4,257.9 166.8,258.6 167.2,259.3 167.6,260.0 168.0,260.7 168.4,261.4 168.8,262.1 169.2,262.8 169.6,263.4 170.0,264.1 170.4,264.8 170.9,265.4 171.3,266.1 171.8,266.8 172.3,267.4 172.8,268.0 173.3,268.6 173.9,269.2 174.4,269.8 174.9,270.4 175.5,271.0 176.1,271.5 176.6,272.1 177.2,272.7 177.7,273.3 178.2,273.9 178.8,274.5 179.3,275.1 179.8,275.7 180.4,276.2 181.0,276.8 181.6,277.3 182.3,277.7 183.0,278.0 183.7,278.4 184.4,278.7 185.2,279.1 185.9,279.4 186.7,279.6 187.4,279.9 188.2,280.2 188.9,280.4 189.7,280.6 190.5,280.7 191.3,280.9 192.1,281.0 192.9,281.1 193.7,281.2 194.5,281.3 195.3,281.4 196.0,281.5 196.8,281.6 197.6,281.6 198.4,281.7 199.2,281.8 200.0,281.8 200.8,281.9 201.6,281.9 202.4,281.9 203.2,282.0 204.0,282.0 204.8,282.0 205.6,282.0 206.4,282.1 207.2,282.1 208.0,282.1 208.8,282.1 209.6,282.1 210.4,282.2 211.2,282.2 212.0,282.2 212.8,282.2 213.6,282.2 214.4,282.2 215.2,282.2 216.0,282.3 216.8,282.3 217.6,282.3 218.4,282.3 219.2,282.3 220.0,282.3 220.8,282.3 221.6,282.3 222.4,282.3 223.2,282.4 224.0,282.4 224.8,282.4 225.6,282.4 226.4,282.4 227.2,282.4 228.0,282.4 228.8,282.4 229.6,282.4 230.4,282.4 231.2,282.4 232.0,282.4 232.8,282.4" stroke="#0000ff" stroke-linecap="butt" stroke-dasharray="2.9 2.85"/>
</g>
<g clip-path="url(#cBR)" fill="none" stroke-width="2.75" stroke-linejoin="round">
<path d="M232.8,282.4 233.6,282.4 234.4,282.4 235.2,282.4 236.0,282.4 236.8,282.4 237.6,282.4 238.4,282.4 239.2,282.4 240.0,282.4 240.8,282.4 241.6,282.4 242.4,282.4 243.2,282.4 244.0,282.4 244.8,282.4 245.6,282.4 246.4,282.4 247.2,282.4 248.0,282.4 248.8,282.4 249.6,282.4 250.4,282.4 251.2,282.4 252.0,282.3 252.8,282.2 253.6,282.1 254.3,281.9 255.1,281.6 255.8,281.4 256.6,281.1 257.3,280.8 258.0,280.4 258.7,280.0 259.3,279.4 259.8,278.8 260.3,278.2 260.8,277.6 261.3,277.0 261.8,276.4 262.3,275.7 262.7,275.0 263.1,274.3 263.4,273.6 263.7,272.8 264.0,272.1 264.2,271.3 264.5,270.6 264.7,269.8 265.0,269.1 265.2,268.3 265.5,267.5 265.7,266.8 265.9,266.0 266.1,265.2 266.3,264.5 266.5,263.7 266.7,262.9 266.9,262.1 267.1,261.3 267.3,260.6 267.5,259.8 267.6,259.0 267.8,258.2 268.0,257.5 268.2,256.7 268.4,255.9 268.6,255.1 268.7,254.3 268.9,253.6 269.1,252.8 269.3,252.0 269.4,251.2 269.6,250.4 269.8,249.7 269.9,248.9 270.1,248.1 270.2,247.3 270.4,246.5 270.5,245.7 270.7,245.0 270.8,244.2 271.0,243.4 271.1,242.6 271.3,241.8 271.4,241.0 271.6,240.2 271.7,239.5 271.9,238.7 272.0,237.9 272.2,237.1 272.3,236.3 272.5,235.5 272.6,234.8 272.8,234.0 272.9,233.2 273.1,232.4 273.3,231.6 273.5,230.9 273.7,230.1 273.9,229.3 274.1,228.5 274.4,227.8 274.6,227.0 274.9,226.3 275.2,225.5 275.5,224.8 275.9,224.1 276.3,223.4 276.6,222.7 276.9,221.9 277.3,221.2 277.6,220.5 278.1,219.9 278.8,219.4 279.5,219.0 280.2,218.8 281.0,218.8 281.8,219.0 282.6,219.2 283.2,219.7 283.8,220.3 284.3,220.9 284.8,221.5 285.2,222.2 285.6,222.9 285.9,223.6 286.3,224.3 286.6,225.0 287.0,225.8 287.3,226.5 287.7,227.2 288.0,227.9 288.3,228.7 288.7,229.4 289.0,230.1 289.4,230.8 289.8,231.5 290.1,232.2 290.5,232.9 290.8,233.7 291.2,234.4 291.5,235.1 291.8,235.8 292.2,236.5 292.6,237.3 292.9,238.0 293.3,238.7 293.7,239.4 294.0,240.1 294.4,240.8 294.8,241.5 295.2,242.2 295.6,242.9 296.0,243.6 296.4,244.2 296.9,244.9 297.3,245.6 297.7,246.3 298.2,246.9 298.7,247.6 299.2,248.2 299.7,248.8 300.2,249.4 300.7,250.1 301.2,250.7 301.7,251.3 302.3,251.8 302.9,252.3 303.5,252.8 304.3,253.1 305.0,253.4 305.8,253.6 306.6,253.8 307.3,254.0 308.1,254.0 308.9,253.9 309.7,253.6 310.4,253.2 311.0,252.7 311.7,252.2 312.3,251.7 312.8,251.2 313.4,250.6 313.8,249.9 314.1,249.1 314.4,248.4 314.7,247.7 314.9,246.9 315.2,246.2 315.5,245.4 315.7,244.6 316.0,243.9 316.2,243.1 316.5,242.4 316.8,241.6 317.1,240.9 317.3,240.1 317.6,239.4 317.9,238.6 318.2,237.9 318.5,237.1 318.8,236.4 319.0,235.6 319.3,234.9 319.6,234.2 319.9,233.4 320.2,232.7 320.6,232.0 320.9,231.2 321.2,230.5 321.6,229.8 321.9,229.1 322.3,228.3 322.6,227.6 322.9,226.9 323.3,226.2 323.7,225.5 324.0,224.8 324.5,224.1 324.9,223.4 325.5,222.9 326.1,222.4 326.9,222.1 327.6,221.8 328.4,221.6 329.2,221.5 330.0,221.5 330.8,221.7 331.5,222.1 332.2,222.5 332.8,223.0 333.4,223.5 334.0,224.0 334.5,224.6 334.9,225.3 335.3,226.0 335.6,226.8 335.9,227.5 336.2,228.3 336.4,229.0 336.7,229.8 337.0,230.5 337.3,231.3 337.6,232.0 337.9,232.7 338.2,233.5 338.5,234.2 338.8,234.9 339.2,235.7 339.5,236.4 339.8,237.1 340.1,237.9 340.4,238.6 340.8,239.3 341.1,240.1 341.4,240.8 341.8,241.5 342.1,242.2 342.5,242.9 342.8,243.7 343.2,244.4 343.5,245.1 343.9,245.8 344.3,246.5 344.7,247.2 345.0,247.9 345.4,248.6 345.8,249.3 346.2,250.0 346.6,250.7 347.0,251.4 347.3,252.1 347.7,252.8 348.1,253.5 348.5,254.2 348.9,254.9 349.3,255.6 349.7,256.3 350.1,257.0 350.5,257.7 350.9,258.3 351.4,259.0 351.8,259.7 352.2,260.3 352.7,261.0 353.2,261.6 353.6,262.3 354.1,262.9 354.6,263.5 355.1,264.2 355.6,264.8 356.1,265.4 356.6,266.1 357.1,266.7 357.7,267.2 358.3,267.8 358.9,268.3 359.5,268.8 360.2,269.3 360.8,269.7 361.5,270.2 362.2,270.6 362.9,271.0 363.6,271.3 364.3,271.6 365.1,271.9 365.8,272.2 366.6,272.4 367.3,272.6 368.1,272.8 368.9,273.0 369.7,273.1 370.5,273.2 371.3,273.3 372.1,273.4 372.9,273.5 373.7,273.6 374.5,273.6 375.3,273.7 376.1,273.7 376.9,273.8 377.6,273.8 378.4,273.9 379.2,273.9 380.0,273.9 380.8,274.0 381.6,274.0 382.4,274.1 383.2,274.1 384.0,274.2 384.8,274.2 385.6,274.3 386.4,274.3 387.2,274.4 388.0,274.5 388.8,274.7 389.6,274.8 390.3,275.0 391.1,275.2 391.9,275.5 392.6,275.7 393.4,276.0 394.1,276.3 394.9,276.6 395.6,276.8 396.4,277.1 397.1,277.4 397.9,277.6 398.6,277.9 399.4,278.2 400.2,278.4 400.9,278.7 401.7,278.9 402.4,279.2 403.2,279.4 404.0,279.6 404.8,279.8 405.5,279.9 406.3,280.1 407.1,280.2 407.9,280.3 408.7,280.4 409.5,280.5 410.3,280.6 411.1,280.7 411.9,280.8 412.7,280.9 413.5,280.9 414.3,281.0 415.1,281.1 415.9,281.1 416.7,281.2 417.4,281.3 418.2,281.3 419.0,281.3 419.8,281.4 420.6,281.4 421.4,281.5 422.2,281.5 423.0,281.5 423.8,281.5 424.6,281.6 425.4,281.6 426.2,281.6 427.0,281.7 427.8,281.7 428.6,281.7 429.4,281.7 430.2,281.8 431.0,281.8 431.8,281.8 432.6,281.8 433.4,281.9 434.2,281.9 435.0,281.9 435.8,281.9 436.6,281.9 437.4,281.9 438.2,281.9 439.0,282.0 439.8,282.0 440.6,282.0 441.4,282.0 442.2,282.0 443.0,282.0 443.8,282.0 444.6,282.0" stroke="#000000" stroke-linecap="round"/>
<path d="M232.8,282.2 233.6,282.2 234.4,282.2 235.2,282.2 236.0,282.2 236.8,282.2 237.6,282.2 238.4,282.2 239.2,282.2 240.0,282.2 240.8,282.2 241.6,282.2 242.4,282.2 243.2,282.2 244.0,282.2 244.8,282.2 245.6,282.2 246.4,282.2 247.2,282.2 248.0,282.2 248.8,282.2 249.6,282.2 250.4,282.2 251.2,282.2 252.0,282.1 252.8,282.0 253.6,281.9 254.4,281.7 255.1,281.4 255.9,281.2 256.6,280.9 257.3,280.5 258.1,280.2 258.7,279.7 259.4,279.3 260.0,278.7 260.5,278.1 261.0,277.5 261.5,276.9 261.9,276.2 262.4,275.5 262.8,274.9 263.1,274.1 263.5,273.4 263.8,272.7 264.0,271.9 264.3,271.2 264.5,270.4 264.8,269.6 265.0,268.9 265.3,268.1 265.5,267.3 265.7,266.6 265.9,265.8 266.1,265.0 266.3,264.3 266.5,263.5 266.7,262.7 266.9,261.9 267.1,261.2 267.3,260.4 267.5,259.6 267.6,258.8 267.8,258.0 268.0,257.3 268.2,256.5 268.4,255.7 268.6,254.9 268.7,254.1 268.9,253.4 269.1,252.6 269.3,251.8 269.4,251.0 269.6,250.2 269.8,249.5 269.9,248.7 270.1,247.9 270.2,247.1 270.4,246.3 270.5,245.5 270.7,244.7 270.8,244.0 271.0,243.2 271.1,242.4 271.3,241.6 271.4,240.8 271.6,240.0 271.7,239.2 271.9,238.5 272.0,237.7 272.2,236.9 272.3,236.1 272.5,235.3 272.6,234.5 272.8,233.7 272.9,233.0 273.1,232.2 273.3,231.4 273.5,230.6 273.7,229.9 273.9,229.1 274.2,228.3 274.4,227.6 274.7,226.8 275.0,226.1 275.3,225.3 275.6,224.6 275.9,223.8 276.3,223.1 276.7,222.5 277.2,221.8 277.6,221.2 278.1,220.5 278.6,219.9 279.2,219.3 279.9,218.9 280.6,218.8 281.4,219.0 282.2,219.2 282.9,219.5 283.7,219.8 284.4,220.1 285.1,220.5 285.8,221.0 286.4,221.5 287.0,222.0 287.5,222.6 288.0,223.3 288.3,224.0 288.7,224.7 289.0,225.4 289.4,226.1 289.7,226.9 290.0,227.6 290.3,228.3 290.6,229.1 291.0,229.8 291.3,230.5 291.6,231.2 292.0,232.0 292.4,232.7 292.7,233.4 293.1,234.1 293.5,234.8 293.8,235.5 294.2,236.2 294.6,236.9 295.0,237.6 295.3,238.3 295.7,239.0 296.2,239.7 296.6,240.4 297.0,241.0 297.5,241.7 297.9,242.4 298.4,243.0 298.8,243.7 299.3,244.4 299.8,245.0 300.3,245.6 300.8,246.2 301.4,246.7 302.1,247.1 302.9,247.3 303.7,247.6 304.4,247.8 305.2,247.9 306.0,248.0 306.8,247.9 307.5,247.5 308.2,247.1 308.8,246.5 309.3,246.0 309.9,245.4 310.4,244.8 310.9,244.1 311.3,243.5 311.7,242.8 312.0,242.0 312.3,241.3 312.6,240.5 312.9,239.8 313.1,239.0 313.3,238.3 313.6,237.5 313.8,236.7 314.1,236.0 314.3,235.2 314.5,234.4 314.8,233.7 315.0,232.9 315.3,232.2 315.5,231.4 315.8,230.6 316.0,229.9 316.3,229.1 316.5,228.4 316.8,227.6 317.0,226.8 317.2,226.1 317.5,225.3 317.7,224.5 317.9,223.8 318.1,223.0 318.4,222.2 318.6,221.5 318.8,220.7 319.0,219.9 319.2,219.2 319.5,218.4 319.7,217.6 319.9,216.8 320.1,216.1 320.3,215.3 320.5,214.5 320.8,213.8 321.0,213.0 321.2,212.2 321.4,211.5 321.6,210.7 321.9,209.9 322.1,209.2 322.4,208.4 322.6,207.6 322.9,206.9 323.1,206.1 323.4,205.4 323.7,204.6 324.0,203.9 324.4,203.2 324.7,202.5 325.1,201.7 325.4,201.0 325.9,200.4 326.4,199.7 326.9,199.2 327.6,198.7 328.3,198.3 329.0,198.0 329.8,197.9 330.5,198.3 331.2,198.7 331.8,199.2 332.3,199.8 332.8,200.5 333.2,201.2 333.6,201.9 333.9,202.6 334.2,203.4 334.5,204.1 334.7,204.9 335.0,205.6 335.3,206.3 335.7,207.1 336.0,207.8 336.3,208.6 336.6,209.3 336.8,210.0 337.1,210.8 337.4,211.6 337.6,212.3 337.8,213.1 338.1,213.9 338.3,214.6 338.5,215.4 338.7,216.2 338.9,216.9 339.2,217.7 339.4,218.5 339.6,219.2 339.8,220.0 340.0,220.8 340.2,221.6 340.5,222.3 340.7,223.1 340.9,223.8 341.2,224.6 341.5,225.4 341.7,226.1 342.0,226.9 342.3,227.6 342.5,228.4 342.8,229.1 343.1,229.9 343.4,230.6 343.6,231.4 343.9,232.1 344.2,232.9 344.5,233.6 344.8,234.4 345.0,235.1 345.3,235.9 345.6,236.6 345.9,237.4 346.2,238.1 346.4,238.9 346.7,239.6 347.0,240.4 347.3,241.1 347.6,241.9 347.8,242.6 348.1,243.4 348.4,244.1 348.7,244.8 349.0,245.6 349.3,246.3 349.6,247.1 349.9,247.8 350.3,248.5 350.6,249.3 350.9,250.0 351.2,250.8 351.5,251.5 351.8,252.2 352.1,253.0 352.5,253.7 352.8,254.4 353.2,255.1 353.5,255.8 353.9,256.5 354.3,257.2 354.8,257.9 355.2,258.5 355.7,259.2 356.2,259.8 356.7,260.4 357.2,261.1 357.7,261.7 358.2,262.3 358.7,262.9 359.3,263.5 359.8,264.1 360.4,264.7 361.0,265.2 361.6,265.7 362.2,266.2 362.9,266.7 363.5,267.1 364.2,267.6 364.9,268.0 365.6,268.3 366.3,268.6 367.1,269.0 367.8,269.3 368.6,269.6 369.3,269.8 370.1,270.0 370.9,270.1 371.7,270.2 372.5,270.3 373.3,270.4 374.1,270.4 374.9,270.5 375.7,270.5 376.5,270.5 377.3,270.5 378.1,270.5 378.9,270.5 379.7,270.6 380.5,270.6 381.3,270.6 382.1,270.6 382.9,270.6 383.7,270.7 384.5,270.8 385.2,270.9 386.0,271.0 386.8,271.1 387.6,271.3 388.4,271.4 389.2,271.6 390.0,271.8 390.7,272.0 391.5,272.2 392.3,272.4 393.0,272.7 393.8,272.9 394.5,273.2 395.3,273.5 396.1,273.7 396.8,274.0 397.6,274.3 398.3,274.6 399.1,274.8 399.8,275.1 400.6,275.4 401.3,275.7 402.0,276.0 402.8,276.3 403.5,276.7 404.2,277.0 405.0,277.3 405.7,277.6 406.5,277.8 407.2,278.1 408.0,278.3 408.8,278.5 409.6,278.7 410.3,278.8 411.1,279.0 411.9,279.2 412.7,279.3 413.5,279.5 414.3,279.6 415.1,279.7 415.8,279.8 416.6,279.9 417.4,280.0 418.2,280.1 419.0,280.2 419.8,280.3 420.6,280.3 421.4,280.4 422.2,280.4 423.0,280.5 423.8,280.5 424.6,280.6 425.4,280.6 426.2,280.7 427.0,280.7 427.8,280.7 428.6,280.8 429.4,280.8 430.2,280.9 431.0,280.9 431.8,280.9 432.6,281.0 433.4,281.0 434.2,281.0 435.0,281.0 435.8,281.1 436.6,281.1 437.4,281.1 438.2,281.1 439.0,281.1 439.8,281.2 440.6,281.2 441.4,281.2 442.2,281.2 443.0,281.2 443.8,281.2 444.6,281.2" stroke="#ff0000" stroke-linecap="butt" stroke-dasharray="14.3 3"/>
<path d="M232.8,282.4 233.6,282.4 234.4,282.4 235.2,282.4 236.0,282.4 236.8,282.4 237.6,282.4 238.4,282.4 239.2,282.4 240.0,282.4 240.8,282.4 241.6,282.4 242.4,282.4 243.2,282.4 244.0,282.4 244.8,282.4 245.6,282.4 246.4,282.4 247.2,282.4 248.0,282.4 248.8,282.4 249.6,282.4 250.4,282.4 251.2,282.4 252.0,282.3 252.8,282.2 253.6,282.1 254.3,281.9 255.1,281.6 255.8,281.4 256.6,281.1 257.3,280.8 258.0,280.4 258.7,280.0 259.3,279.4 259.8,278.8 260.3,278.2 260.8,277.6 261.3,277.0 261.8,276.4 262.3,275.7 262.7,275.0 263.1,274.3 263.4,273.6 263.7,272.8 264.0,272.1 264.2,271.3 264.5,270.6 264.7,269.8 265.0,269.1 265.2,268.3 265.5,267.5 265.7,266.8 265.9,266.0 266.1,265.2 266.3,264.5 266.5,263.7 266.7,262.9 266.9,262.1 267.1,261.3 267.3,260.6 267.5,259.8 267.6,259.0 267.8,258.2 268.0,257.5 268.2,256.7 268.4,255.9 268.6,255.1 268.7,254.3 268.9,253.6 269.1,252.8 269.3,252.0 269.4,251.2 269.6,250.4 269.8,249.7 269.9,248.9 270.1,248.1 270.2,247.3 270.4,246.5 270.5,245.7 270.7,245.0 270.8,244.2 271.0,243.4 271.1,242.6 271.3,241.8 271.4,241.0 271.6,240.2 271.7,239.5 271.9,238.7 272.0,237.9 272.2,237.1 272.3,236.3 272.5,235.5 272.6,234.8 272.8,234.0 272.9,233.2 273.1,232.4 273.3,231.6 273.5,230.9 273.7,230.1 273.9,229.3 274.1,228.5 274.4,227.8 274.6,227.0 274.9,226.3 275.2,225.5 275.5,224.8 275.9,224.1 276.3,223.4 276.6,222.7 276.9,221.9 277.3,221.2 277.6,220.5 278.1,219.9 278.8,219.4 279.5,219.0 280.2,218.8 281.0,218.8 281.8,219.0 282.6,219.2 283.2,219.7 283.8,220.3 284.3,220.9 284.7,221.5 285.2,222.2 285.5,222.9 285.9,223.6 286.2,224.3 286.6,225.1 286.9,225.8 287.2,226.5 287.5,227.3 287.9,228.0 288.2,228.7 288.5,229.5 288.8,230.2 289.2,230.9 289.5,231.6 289.9,232.3 290.2,233.1 290.6,233.8 290.9,234.5 291.2,235.2 291.6,236.0 291.9,236.7 292.2,237.4 292.6,238.1 292.9,238.9 293.3,239.6 293.6,240.3 294.0,241.0 294.4,241.7 294.8,242.4 295.1,243.1 295.5,243.8 295.9,244.5 296.3,245.2 296.7,245.9 297.1,246.6 297.5,247.3 297.9,248.0 298.4,248.6 298.8,249.3 299.3,249.9 299.8,250.6 300.2,251.2 300.7,251.8 301.2,252.5 301.8,253.1 302.4,253.6 303.0,254.0 303.8,254.3 304.5,254.6 305.3,254.8 306.1,255.0 306.9,255.0 307.6,254.8 308.4,254.4 309.1,254.1 309.7,253.6 310.4,253.2 311.1,252.8 311.7,252.3 312.3,251.7 312.9,251.2 313.4,250.5 313.8,249.9 314.2,249.2 314.5,248.5 314.9,247.7 315.2,247.0 315.5,246.3 315.9,245.6 316.2,244.8 316.5,244.1 316.8,243.4 317.2,242.6 317.5,241.9 317.8,241.2 318.1,240.4 318.4,239.7 318.8,239.0 319.1,238.2 319.4,237.5 319.7,236.8 320.0,236.0 320.4,235.3 320.7,234.6 321.1,233.9 321.4,233.2 321.8,232.5 322.1,231.7 322.5,231.0 322.9,230.3 323.3,229.6 323.7,228.9 324.1,228.3 324.7,227.7 325.4,227.3 326.1,227.0 326.8,226.7 327.6,226.4 328.4,226.2 329.1,226.1 329.9,226.0 330.7,226.1 331.5,226.4 332.1,226.9 332.8,227.3 333.4,227.9 333.8,228.5 334.2,229.2 334.5,230.0 334.8,230.7 335.1,231.4 335.4,232.2 335.7,232.9 336.0,233.7 336.3,234.4 336.6,235.2 336.9,235.9 337.3,236.6 337.6,237.3 338.0,238.0 338.4,238.8 338.7,239.5 339.1,240.2 339.4,240.9 339.8,241.6 340.1,242.3 340.5,243.0 340.9,243.7 341.2,244.5 341.6,245.2 341.9,245.9 342.3,246.6 342.7,247.3 343.0,248.0 343.4,248.8 343.7,249.5 344.1,250.2 344.4,250.9 344.8,251.6 345.1,252.3 345.5,253.0 345.9,253.8 346.2,254.5 346.6,255.2 347.0,255.9 347.4,256.6 347.8,257.3 348.1,258.0 348.5,258.7 348.9,259.4 349.4,260.0 349.8,260.7 350.3,261.4 350.7,262.0 351.2,262.6 351.7,263.3 352.2,263.9 352.8,264.5 353.3,265.1 353.9,265.6 354.4,266.2 355.0,266.8 355.5,267.3 356.1,267.9 356.7,268.4 357.3,269.0 357.9,269.5 358.6,269.9 359.2,270.4 359.9,270.9 360.5,271.3 361.2,271.7 361.9,272.1 362.6,272.5 363.3,272.9 364.1,273.2 364.8,273.5 365.5,273.8 366.3,274.1 367.0,274.3 367.8,274.5 368.6,274.7 369.4,274.9 370.2,275.0 371.0,275.1 371.8,275.2 372.5,275.2 373.3,275.3 374.1,275.4 374.9,275.5 375.7,275.5 376.5,275.6 377.3,275.7 378.1,275.8 378.9,275.8 379.7,275.9 380.5,276.0 381.3,276.0 382.1,276.1 382.9,276.1 383.7,276.1 384.5,276.2 385.3,276.2 386.1,276.2 386.9,276.3 387.7,276.3 388.5,276.4 389.3,276.5 390.1,276.6 390.8,276.8 391.6,276.9 392.4,277.1 393.2,277.3 393.9,277.6 394.7,277.9 395.4,278.1 396.2,278.4 397.0,278.6 397.7,278.8 398.5,279.0 399.3,279.2 400.0,279.5 400.8,279.7 401.6,279.9 402.4,280.0 403.1,280.2 403.9,280.4 404.7,280.5 405.5,280.6 406.3,280.7 407.1,280.8 407.9,280.9 408.7,281.0 409.5,281.1 410.3,281.2 411.1,281.2 411.9,281.3 412.7,281.4 413.5,281.4 414.3,281.5 415.0,281.6 415.8,281.6 416.6,281.7 417.4,281.7 418.2,281.7 419.0,281.8 419.8,281.8 420.6,281.8 421.4,281.8 422.2,281.9 423.0,281.9 423.8,281.9 424.6,281.9 425.4,281.9 426.2,282.0 427.0,282.0 427.8,282.0 428.6,282.0 429.4,282.0 430.2,282.0 431.0,282.1 431.8,282.1 432.6,282.1 433.4,282.1 434.2,282.1 435.0,282.1 435.8,282.1 436.6,282.1 437.4,282.2 438.2,282.2 439.0,282.2 439.8,282.2 440.6,282.2 441.4,282.2 442.2,282.2 443.0,282.2 443.8,282.2 444.6,282.2" stroke="#006400" stroke-linecap="butt" stroke-dasharray="8.1 3.3 2.4 3.3"/>
<path d="M232.8,282.6 233.6,282.6 234.4,282.6 235.2,282.6 236.0,282.6 236.8,282.6 237.6,282.6 238.4,282.6 239.2,282.6 240.0,282.6 240.8,282.6 241.6,282.6 242.4,282.6 243.2,282.6 244.0,282.6 244.8,282.6 245.6,282.6 246.4,282.6 247.2,282.6 248.0,282.6 248.8,282.6 249.6,282.6 250.4,282.6 251.2,282.6 252.0,282.5 252.8,282.4 253.6,282.3 254.3,282.1 255.1,281.8 255.9,281.6 256.6,281.3 257.3,280.9 258.0,280.5 258.7,280.1 259.3,279.6 259.8,279.0 260.4,278.4 260.9,277.8 261.4,277.1 261.8,276.5 262.2,275.8 262.6,275.1 263.0,274.4 263.3,273.7 263.6,272.9 263.9,272.2 264.2,271.4 264.4,270.7 264.7,269.9 264.9,269.1 265.2,268.4 265.4,267.6 265.6,266.8 265.9,266.1 266.1,265.3 266.3,264.5 266.5,263.8 266.7,263.0 266.8,262.2 267.0,261.4 267.2,260.6 267.4,259.9 267.6,259.1 267.8,258.3 267.9,257.5 268.1,256.7 268.3,256.0 268.5,255.2 268.7,254.4 268.9,253.6 269.0,252.8 269.2,252.1 269.4,251.3 269.5,250.5 269.7,249.7 269.9,248.9 270.0,248.2 270.2,247.4 270.3,246.6 270.5,245.8 270.6,245.0 270.8,244.2 270.9,243.4 271.1,242.7 271.2,241.9 271.4,241.1 271.5,240.3 271.7,239.5 271.8,238.7 272.0,237.9 272.1,237.2 272.3,236.4 272.4,235.6 272.6,234.8 272.7,234.0 272.9,233.2 273.1,232.5 273.2,231.7 273.4,230.9 273.6,230.1 273.9,229.4 274.1,228.6 274.3,227.8 274.6,227.1 274.9,226.3 275.2,225.6 275.5,224.8 275.8,224.1 276.2,223.4 276.6,222.7 276.9,222.0 277.2,221.2 277.6,220.5 278.1,219.9 278.7,219.4 279.4,219.0 280.2,218.8 280.9,219.1 281.5,219.6 282.1,220.1 282.7,220.7 283.2,221.3 283.6,222.0 284.0,222.7 284.3,223.4 284.6,224.1 284.9,224.9 285.2,225.6 285.5,226.4 285.8,227.1 286.1,227.9 286.4,228.6 286.7,229.3 287.0,230.1 287.4,230.8 287.7,231.5 288.1,232.2 288.4,232.9 288.8,233.7 289.1,234.4 289.5,235.1 289.9,235.8 290.2,236.5 290.6,237.2 291.0,237.9 291.3,238.7 291.7,239.4 292.0,240.1 292.4,240.8 292.7,241.5 293.1,242.2 293.4,243.0 293.7,243.7 294.1,244.4 294.4,245.1 294.8,245.9 295.1,246.6 295.5,247.3 295.8,248.0 296.2,248.7 296.6,249.4 297.1,250.1 297.5,250.7 297.9,251.4 298.4,252.1 298.9,252.7 299.3,253.4 299.8,254.0 300.4,254.6 300.9,255.2 301.5,255.7 302.2,256.1 302.9,256.5 303.6,256.9 304.3,257.3 305.0,257.7 305.7,258.0 306.5,258.2 307.3,258.4 308.1,258.4 308.9,258.2 309.6,257.9 310.3,257.5 310.9,257.0 311.5,256.4 312.1,255.9 312.6,255.3 313.0,254.6 313.4,253.9 313.8,253.2 314.2,252.5 314.5,251.8 314.9,251.1 315.3,250.4 315.8,249.7 316.2,249.1 316.6,248.4 317.0,247.7 317.4,247.0 317.8,246.3 318.2,245.6 318.6,244.9 319.0,244.2 319.4,243.5 319.8,242.8 320.3,242.2 320.8,241.6 321.3,241.0 321.9,240.4 322.5,239.9 323.1,239.4 323.8,239.0 324.5,238.6 325.2,238.3 326.0,238.0 326.7,237.8 327.5,237.6 328.3,237.6 329.1,237.7 329.9,238.0 330.6,238.3 331.2,238.8 331.8,239.3 332.4,239.9 333.0,240.5 333.5,241.1 334.0,241.7 334.5,242.3 334.9,243.0 335.4,243.6 335.8,244.3 336.3,245.0 336.7,245.6 337.2,246.3 337.6,247.0 338.0,247.6 338.4,248.3 338.8,249.0 339.2,249.7 339.6,250.4 340.1,251.1 340.5,251.8 340.9,252.5 341.3,253.2 341.7,253.8 342.1,254.5 342.5,255.2 342.9,255.9 343.4,256.6 343.8,257.2 344.2,257.9 344.7,258.6 345.1,259.2 345.6,259.9 346.0,260.6 346.5,261.2 346.9,261.9 347.4,262.6 347.8,263.2 348.2,263.9 348.7,264.6 349.1,265.2 349.6,265.9 350.0,266.5 350.5,267.2 351.0,267.8 351.5,268.4 352.0,269.1 352.5,269.7 353.1,270.3 353.6,270.8 354.2,271.3 354.9,271.8 355.6,272.2 356.3,272.6 357.0,273.0 357.7,273.3 358.4,273.7 359.1,274.1 359.8,274.4 360.6,274.8 361.3,275.1 362.0,275.4 362.8,275.7 363.5,276.0 364.3,276.2 365.0,276.5 365.8,276.7 366.6,276.9 367.3,277.1 368.1,277.3 368.9,277.5 369.7,277.6 370.5,277.8 371.3,277.9 372.1,278.0 372.9,278.1 373.6,278.2 374.4,278.3 375.2,278.4 376.0,278.5 376.8,278.5 377.6,278.6 378.4,278.7 379.2,278.7 380.0,278.8 380.8,278.8 381.6,278.8 382.4,278.9 383.2,278.9 384.0,278.9 384.8,278.9 385.6,278.9 386.4,279.0 387.2,279.0 388.0,279.1 388.8,279.2 389.6,279.3 390.4,279.5 391.2,279.7 391.9,279.8 392.7,280.0 393.5,280.1 394.3,280.2 395.1,280.3 395.9,280.4 396.7,280.4 397.5,280.5 398.3,280.6 399.1,280.7 399.9,280.8 400.7,280.9 401.5,281.0 402.3,281.1 403.1,281.2 403.8,281.3 404.6,281.4 405.4,281.5 406.2,281.6 407.0,281.6 407.8,281.7 408.6,281.8 409.4,281.8 410.2,281.9 411.0,281.9 411.8,281.9 412.6,282.0 413.4,282.0 414.2,282.0 415.0,282.0 415.8,282.0 416.6,282.1 417.4,282.1 418.2,282.1 419.0,282.1 419.8,282.1 420.6,282.1 421.4,282.2 422.2,282.2 423.0,282.2 423.8,282.2 424.6,282.2 425.4,282.2 426.2,282.3 427.0,282.3 427.8,282.3 428.6,282.3 429.4,282.3 430.2,282.3 431.0,282.3 431.8,282.3 432.6,282.3 433.4,282.3 434.2,282.4 435.0,282.4 435.8,282.4 436.6,282.4 437.4,282.4 438.2,282.4 439.0,282.4 439.8,282.4 440.6,282.4 441.4,282.4 442.2,282.4 443.0,282.4 443.8,282.4 444.6,282.4" stroke="#0000ff" stroke-linecap="butt" stroke-dasharray="2.9 2.85"/>
</g>
<g stroke="#000" stroke-width="1.35" stroke-linecap="round">
<line x1="46.56" y1="126.32" x2="46.56" y2="134.62"/>
<line x1="42.97" y1="128.40" x2="50.15" y2="132.54"/>
<line x1="42.97" y1="132.54" x2="50.15" y2="128.40"/>
</g>
<g stroke="#000" stroke-width="1.6" fill="none" stroke-linecap="square">
<rect x="20.7" y="23.0" width="423.90000000000003" height="260.6"/>
<line x1="20.7" y1="153.3" x2="444.6" y2="153.3"/>
<line x1="232.8" y1="23.0" x2="232.8" y2="283.6"/>
</g>
<g stroke="#000" stroke-width="1.4">
<line x1="232.8" y1="283.6" x2="232.8" y2="290.5"/>
<line x1="39.90" y1="283.6" x2="39.90" y2="290.5"/>
<line x1="271.60" y1="283.6" x2="271.60" y2="290.5"/>
<line x1="88.03" y1="283.6" x2="88.03" y2="290.5"/>
<line x1="319.83" y1="283.6" x2="319.83" y2="290.5"/>
<line x1="136.15" y1="283.6" x2="136.15" y2="290.5"/>
<line x1="368.05" y1="283.6" x2="368.05" y2="290.5"/>
<line x1="184.28" y1="283.6" x2="184.28" y2="290.5"/>
<line x1="416.28" y1="283.6" x2="416.28" y2="290.5"/>
</g>
<g font-family="Liberation Sans, sans-serif" fill="#000" stroke="#000" stroke-width="0.25">
<text x="27.31" y="307.6" font-size="13.9" textLength="25.02" lengthAdjust="spacingAndGlyphs">600</text>
<text x="259.01" y="307.6" font-size="13.9" textLength="25.02" lengthAdjust="spacingAndGlyphs">600</text>
<text x="75.43" y="307.6" font-size="13.9" textLength="25.02" lengthAdjust="spacingAndGlyphs">650</text>
<text x="307.23" y="307.6" font-size="13.9" textLength="25.02" lengthAdjust="spacingAndGlyphs">650</text>
<text x="123.56" y="307.6" font-size="13.9" textLength="25.02" lengthAdjust="spacingAndGlyphs">700</text>
<text x="355.46" y="307.6" font-size="13.9" textLength="25.02" lengthAdjust="spacingAndGlyphs">700</text>
<text x="171.68" y="307.6" font-size="13.9" textLength="25.02" lengthAdjust="spacingAndGlyphs">750</text>
<text x="403.68" y="307.6" font-size="13.9" textLength="25.02" lengthAdjust="spacingAndGlyphs">750</text>
<text x="59.24" y="10.0" font-size="13.9" textLength="27.35" lengthAdjust="spacingAndGlyphs">with</text>
<text x="91.07" y="10.0" font-size="13.9" textLength="9.25" lengthAdjust="spacingAndGlyphs">H</text>
<text x="101.02" y="12.1" font-size="10.3" textLength="5.56" lengthAdjust="spacingAndGlyphs">2</text>
<text x="107.45" y="10.0" font-size="13.9" textLength="24.09" lengthAdjust="spacingAndGlyphs">TPP</text>
<text x="135.88" y="10.0" font-size="13.9" textLength="58.79" lengthAdjust="spacingAndGlyphs">attached</text>
<text x="271.74" y="10.0" font-size="13.9" textLength="26.83" lengthAdjust="spacingAndGlyphs">with</text>
<text x="302.78" y="10.0" font-size="13.9" textLength="42.31" lengthAdjust="spacingAndGlyphs">ZnTPP</text>
<text x="348.78" y="10.0" font-size="13.9" textLength="58.89" lengthAdjust="spacingAndGlyphs">attached</text>
<text x="71.74" y="328.0" font-size="13.9" textLength="111.05" lengthAdjust="spacingAndGlyphs">wavelength / nm</text>
<text x="283.34" y="328.0" font-size="13.9" textLength="111.75" lengthAdjust="spacingAndGlyphs">wavelength / nm</text>
<text transform="translate(10.3,131.53) rotate(-90)" font-size="13.9" textLength="88.45" lengthAdjust="spacingAndGlyphs">experimental</text>
<text transform="translate(10.3,251.32) rotate(-90)" font-size="13.9" textLength="66.90" lengthAdjust="spacingAndGlyphs">simulated</text>
<text x="4.01" y="351.1" font-size="13.9" textLength="53.20" lengthAdjust="spacingAndGlyphs">Legend:</text>
<text x="138.40" y="350.4" font-size="13.9" textLength="22.42" lengthAdjust="spacingAndGlyphs">SiO</text>
<text x="160.90" y="352.7" font-size="10.3" textLength="5.81" lengthAdjust="spacingAndGlyphs">2</text>
<text x="233.06" y="351.4" font-size="13.9" textLength="25.20" lengthAdjust="spacingAndGlyphs">NP3</text>
<text x="323.05" y="351.4" font-size="13.9" textLength="25.49" lengthAdjust="spacingAndGlyphs">NP2</text>
<text x="413.12" y="351.4" font-size="13.9" textLength="26.02" lengthAdjust="spacingAndGlyphs">NP1</text>
</g>
<g fill="none" stroke-width="2.75">
<line x1="99.75" y1="347" x2="128.9" y2="347" stroke="#000"/>
<line x1="195.2" y1="346.9" x2="222.1" y2="346.9" stroke="#f00" stroke-dasharray="14.3 3"/>
<line x1="285.6" y1="346.9" x2="312.5" y2="346.9" stroke="#006400" stroke-dasharray="8.1 3.3 2.4 3.3"/>
<line x1="375.8" y1="347" x2="402.7" y2="347" stroke="#00f" stroke-dasharray="2.9 2.85"/>
</g></svg>
</body></html>
